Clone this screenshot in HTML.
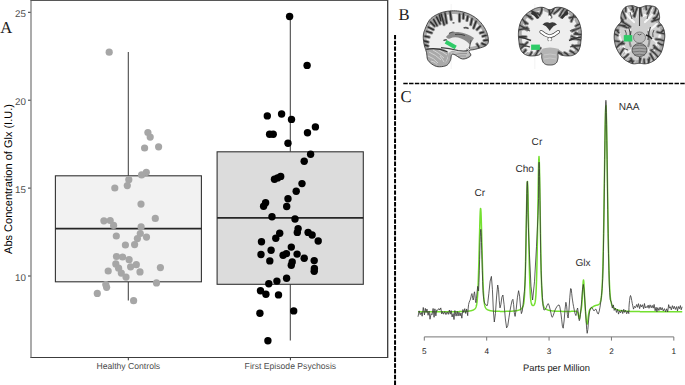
<!DOCTYPE html>
<html><head><meta charset="utf-8"><style>
html,body{margin:0;padding:0;background:#fff;width:685px;height:385px;overflow:hidden}
svg{display:block;font-family:"Liberation Sans",sans-serif}

</style></head><body>
<svg width="685" height="385" viewBox="0 0 685 385" text-rendering="geometricPrecision"><line x1="128.3" y1="52" x2="128.3" y2="175.8" stroke="#424242" stroke-width="1.05"/>
<line x1="128.3" y1="281.8" x2="128.3" y2="300.6" stroke="#424242" stroke-width="1.05"/>
<line x1="290.3" y1="16.5" x2="290.3" y2="151.8" stroke="#424242" stroke-width="1.05"/>
<line x1="290.3" y1="284.3" x2="290.3" y2="340.6" stroke="#424242" stroke-width="1.05"/>
<rect x="55.4" y="175.8" width="146" height="106" fill="#f2f2f2" stroke="#333" stroke-width="1.1"/>
<line x1="55.4" y1="228.6" x2="201.4" y2="228.6" stroke="#262626" stroke-width="1.7"/>
<rect x="217.1" y="151.8" width="146.2" height="132.5" fill="#dcdcdc" stroke="#333" stroke-width="1.1"/>
<line x1="217.1" y1="217.9" x2="363.3" y2="217.9" stroke="#262626" stroke-width="1.7"/>
<circle cx="109.2" cy="52.2" r="3.6" fill="#a6a6a6"/>
<circle cx="147.9" cy="132.5" r="3.6" fill="#a6a6a6"/>
<circle cx="150.2" cy="137.1" r="3.6" fill="#a6a6a6"/>
<circle cx="144.6" cy="148.0" r="3.6" fill="#a6a6a6"/>
<circle cx="158.6" cy="146.8" r="3.6" fill="#a6a6a6"/>
<circle cx="146.3" cy="172.3" r="3.6" fill="#a6a6a6"/>
<circle cx="141.6" cy="174.9" r="3.6" fill="#a6a6a6"/>
<circle cx="128.8" cy="179.7" r="3.6" fill="#a6a6a6"/>
<circle cx="127.3" cy="185.6" r="3.6" fill="#a6a6a6"/>
<circle cx="114.8" cy="188.0" r="3.6" fill="#a6a6a6"/>
<circle cx="141.0" cy="204.1" r="3.6" fill="#a6a6a6"/>
<circle cx="155.3" cy="218.4" r="3.6" fill="#a6a6a6"/>
<circle cx="103.9" cy="220.8" r="3.6" fill="#a6a6a6"/>
<circle cx="110.2" cy="220.5" r="3.6" fill="#a6a6a6"/>
<circle cx="113.6" cy="225.4" r="3.6" fill="#a6a6a6"/>
<circle cx="141.1" cy="226.9" r="3.6" fill="#a6a6a6"/>
<circle cx="116.3" cy="236.0" r="3.6" fill="#a6a6a6"/>
<circle cx="140.3" cy="233.5" r="3.6" fill="#a6a6a6"/>
<circle cx="137.4" cy="238.6" r="3.6" fill="#a6a6a6"/>
<circle cx="146.5" cy="237.1" r="3.6" fill="#a6a6a6"/>
<circle cx="134.6" cy="244.6" r="3.6" fill="#a6a6a6"/>
<circle cx="125.4" cy="245.0" r="3.6" fill="#a6a6a6"/>
<circle cx="116.5" cy="256.5" r="3.6" fill="#a6a6a6"/>
<circle cx="122.6" cy="257.0" r="3.6" fill="#a6a6a6"/>
<circle cx="129.1" cy="259.7" r="3.6" fill="#a6a6a6"/>
<circle cx="115.8" cy="263.9" r="3.6" fill="#a6a6a6"/>
<circle cx="136.3" cy="264.7" r="3.6" fill="#a6a6a6"/>
<circle cx="130.6" cy="266.8" r="3.6" fill="#a6a6a6"/>
<circle cx="118.6" cy="268.2" r="3.6" fill="#a6a6a6"/>
<circle cx="108.2" cy="271.0" r="3.6" fill="#a6a6a6"/>
<circle cx="121.3" cy="273.1" r="3.6" fill="#a6a6a6"/>
<circle cx="140.0" cy="271.9" r="3.6" fill="#a6a6a6"/>
<circle cx="126.0" cy="277.1" r="3.6" fill="#a6a6a6"/>
<circle cx="160.4" cy="267.6" r="3.6" fill="#a6a6a6"/>
<circle cx="156.5" cy="282.9" r="3.6" fill="#a6a6a6"/>
<circle cx="105.8" cy="284.6" r="3.6" fill="#a6a6a6"/>
<circle cx="106.6" cy="287.3" r="3.6" fill="#a6a6a6"/>
<circle cx="97.3" cy="293.4" r="3.6" fill="#a6a6a6"/>
<circle cx="133.6" cy="300.7" r="3.6" fill="#a6a6a6"/>
<circle cx="289.6" cy="16.5" r="3.7" fill="#000"/>
<circle cx="307.1" cy="65.4" r="3.7" fill="#000"/>
<circle cx="267.3" cy="115.9" r="3.7" fill="#000"/>
<circle cx="281.6" cy="114.0" r="3.7" fill="#000"/>
<circle cx="291.5" cy="119.4" r="3.7" fill="#000"/>
<circle cx="269.6" cy="134.3" r="3.7" fill="#000"/>
<circle cx="273.2" cy="134.3" r="3.7" fill="#000"/>
<circle cx="288.0" cy="143.3" r="3.7" fill="#000"/>
<circle cx="307.5" cy="132.8" r="3.7" fill="#000"/>
<circle cx="315.4" cy="126.9" r="3.7" fill="#000"/>
<circle cx="310.6" cy="154.3" r="3.7" fill="#000"/>
<circle cx="304.2" cy="161.2" r="3.7" fill="#000"/>
<circle cx="274.5" cy="179.3" r="3.7" fill="#000"/>
<circle cx="277.6" cy="177.9" r="3.7" fill="#000"/>
<circle cx="280.7" cy="176.4" r="3.7" fill="#000"/>
<circle cx="302.0" cy="183.6" r="3.7" fill="#000"/>
<circle cx="296.2" cy="191.3" r="3.7" fill="#000"/>
<circle cx="288.0" cy="198.8" r="3.7" fill="#000"/>
<circle cx="286.7" cy="206.5" r="3.7" fill="#000"/>
<circle cx="265.6" cy="202.8" r="3.7" fill="#000"/>
<circle cx="263.6" cy="206.3" r="3.7" fill="#000"/>
<circle cx="272.0" cy="216.8" r="3.7" fill="#000"/>
<circle cx="295.0" cy="219.0" r="3.7" fill="#000"/>
<circle cx="298.1" cy="228.6" r="3.7" fill="#000"/>
<circle cx="297.3" cy="232.4" r="3.7" fill="#000"/>
<circle cx="308.1" cy="232.4" r="3.7" fill="#000"/>
<circle cx="312.1" cy="235.0" r="3.7" fill="#000"/>
<circle cx="318.2" cy="241.0" r="3.7" fill="#000"/>
<circle cx="279.7" cy="233.2" r="3.7" fill="#000"/>
<circle cx="275.8" cy="238.3" r="3.7" fill="#000"/>
<circle cx="261.5" cy="241.7" r="3.7" fill="#000"/>
<circle cx="271.1" cy="250.3" r="3.7" fill="#000"/>
<circle cx="261.0" cy="254.5" r="3.7" fill="#000"/>
<circle cx="291.3" cy="247.1" r="3.7" fill="#000"/>
<circle cx="286.4" cy="253.6" r="3.7" fill="#000"/>
<circle cx="283.1" cy="255.3" r="3.7" fill="#000"/>
<circle cx="297.1" cy="254.1" r="3.7" fill="#000"/>
<circle cx="304.2" cy="258.3" r="3.7" fill="#000"/>
<circle cx="314.2" cy="260.6" r="3.7" fill="#000"/>
<circle cx="269.8" cy="260.9" r="3.7" fill="#000"/>
<circle cx="292.2" cy="262.0" r="3.7" fill="#000"/>
<circle cx="291.3" cy="265.3" r="3.7" fill="#000"/>
<circle cx="314.4" cy="268.4" r="3.7" fill="#000"/>
<circle cx="314.2" cy="271.3" r="3.7" fill="#000"/>
<circle cx="286.6" cy="278.3" r="3.7" fill="#000"/>
<circle cx="276.9" cy="281.1" r="3.7" fill="#000"/>
<circle cx="268.8" cy="283.8" r="3.7" fill="#000"/>
<circle cx="260.5" cy="290.7" r="3.7" fill="#000"/>
<circle cx="265.9" cy="294.2" r="3.7" fill="#000"/>
<circle cx="278.5" cy="294.9" r="3.7" fill="#000"/>
<circle cx="259.9" cy="313.3" r="3.7" fill="#000"/>
<circle cx="293.7" cy="310.9" r="3.7" fill="#000"/>
<circle cx="267.9" cy="340.8" r="3.7" fill="#000"/>
<rect x="30.5" y="0" width="357.5" height="1" fill="#575757"/>
<rect x="30.5" y="357" width="357.5" height="1" fill="#3c3c3c"/>
<rect x="30.5" y="0" width="1" height="358" fill="#585858"/>
<rect x="387" y="0" width="1.35" height="358" fill="#404040"/>
<rect x="28" y="11.80" width="2.6" height="1" fill="#333"/>
<text transform="translate(26.0,16.90)" text-rendering="geometricPrecision" text-anchor="end" font-family="Liberation Sans" font-size="9.8" fill="#4d4d4d">25</text>
<rect x="28" y="99.70" width="2.6" height="1" fill="#333"/>
<text transform="translate(26.0,104.80)" text-rendering="geometricPrecision" text-anchor="end" font-family="Liberation Sans" font-size="9.8" fill="#4d4d4d">20</text>
<rect x="28" y="187.60" width="2.6" height="1" fill="#333"/>
<text transform="translate(26.0,192.70)" text-rendering="geometricPrecision" text-anchor="end" font-family="Liberation Sans" font-size="9.8" fill="#4d4d4d">15</text>
<rect x="28" y="275.50" width="2.6" height="1" fill="#333"/>
<text transform="translate(26.0,280.60)" text-rendering="geometricPrecision" text-anchor="end" font-family="Liberation Sans" font-size="9.8" fill="#4d4d4d">10</text>
<rect x="127.80000000000001" y="358" width="1" height="2.3" fill="#333"/>
<text x="128.3" y="369.4" text-anchor="middle" font-family="Liberation Sans" font-size="8.65" fill="#4d4d4d">Healthy Controls</text>
<rect x="289.9" y="358" width="1" height="2.3" fill="#333"/>
<text x="290.4" y="369.4" text-anchor="middle" font-family="Liberation Sans" font-size="8.65" fill="#4d4d4d">First Episode Psychosis</text>
<text transform="translate(11.6,179) rotate(-90)" text-anchor="middle" font-family="Liberation Sans" font-size="11" fill="#000">Abs Concentration of Glx (I.U.)</text>
<text x="0.2" y="32.6" font-family="Liberation Serif" font-size="16.6" fill="#1e1e1e">A</text>
<text x="398.4" y="19.5" font-family="Liberation Serif" font-size="16.6" fill="#1e1e1e">B</text>
<text x="400.4" y="101.5" font-family="Liberation Serif" font-size="16.6" fill="#1e1e1e">C</text>
<line x1="395.05" y1="34.9" x2="395.05" y2="385" stroke="#000" stroke-width="2" stroke-dasharray="4.45 1.31"/>
<line x1="403.3" y1="83.55" x2="685" y2="83.55" stroke="#000" stroke-width="1.5" stroke-dasharray="4.45 1.32"/>
<line x1="424.3" y1="336.9" x2="673.8" y2="336.9" stroke="#777" stroke-width="1"/>
<line x1="424.30" y1="336.9" x2="424.30" y2="340.6" stroke="#777" stroke-width="1"/>
<text x="424.30" y="353.8" text-anchor="middle" font-family="Liberation Sans" font-size="8.2" fill="#222">5</text>
<line x1="486.68" y1="336.9" x2="486.68" y2="340.6" stroke="#777" stroke-width="1"/>
<text x="486.68" y="353.8" text-anchor="middle" font-family="Liberation Sans" font-size="8.2" fill="#222">4</text>
<line x1="549.06" y1="336.9" x2="549.06" y2="340.6" stroke="#777" stroke-width="1"/>
<text x="549.06" y="353.8" text-anchor="middle" font-family="Liberation Sans" font-size="8.2" fill="#222">3</text>
<line x1="611.44" y1="336.9" x2="611.44" y2="340.6" stroke="#777" stroke-width="1"/>
<text x="611.44" y="353.8" text-anchor="middle" font-family="Liberation Sans" font-size="8.2" fill="#222">2</text>
<line x1="673.82" y1="336.9" x2="673.82" y2="340.6" stroke="#777" stroke-width="1"/>
<text x="673.82" y="353.8" text-anchor="middle" font-family="Liberation Sans" font-size="8.2" fill="#222">1</text>
<text x="523" y="371.1" font-family="Liberation Sans" font-size="9.35" fill="#222">Parts per Million</text>
<text x="474.4" y="195.7" font-family="Liberation Sans" font-size="10.1" fill="#303030">Cr</text>
<text x="515.4" y="171.9" font-family="Liberation Sans" font-size="10.1" fill="#303030">Cho</text>
<text x="531.6" y="144.6" font-family="Liberation Sans" font-size="10.1" fill="#303030">Cr</text>
<text x="575.4" y="265.6" font-family="Liberation Sans" font-size="10.1" fill="#303030">Glx</text>
<text x="618.7" y="109.5" font-family="Liberation Sans" font-size="10.1" fill="#303030">NAA</text>
<path d="M418.00,311.85 L418.25,311.85 L418.50,311.85 L418.75,311.85 L419.00,311.85 L419.25,311.85 L419.50,311.85 L419.75,311.84 L420.00,311.84 L420.25,311.84 L420.50,311.84 L420.75,311.84 L421.00,311.84 L421.25,311.84 L421.50,311.84 L421.75,311.84 L422.00,311.84 L422.25,311.84 L422.50,311.84 L422.75,311.84 L423.00,311.84 L423.25,311.84 L423.50,311.84 L423.75,311.84 L424.00,311.84 L424.25,311.84 L424.50,311.84 L424.75,311.84 L425.00,311.84 L425.25,311.84 L425.50,311.84 L425.75,311.84 L426.00,311.84 L426.25,311.83 L426.50,311.83 L426.75,311.83 L427.00,311.83 L427.25,311.83 L427.50,311.83 L427.75,311.83 L428.00,311.83 L428.25,311.83 L428.50,311.83 L428.75,311.83 L429.00,311.83 L429.25,311.83 L429.50,311.83 L429.75,311.83 L430.00,311.83 L430.25,311.83 L430.50,311.83 L430.75,311.83 L431.00,311.83 L431.25,311.82 L431.50,311.82 L431.75,311.82 L432.00,311.82 L432.25,311.82 L432.50,311.82 L432.75,311.82 L433.00,311.82 L433.25,311.82 L433.50,311.82 L433.75,311.82 L434.00,311.82 L434.25,311.82 L434.50,311.82 L434.75,311.82 L435.00,311.82 L435.25,311.81 L435.50,311.81 L435.75,311.81 L436.00,311.81 L436.25,311.81 L436.50,311.81 L436.75,311.81 L437.00,311.81 L437.25,311.81 L437.50,311.81 L437.75,311.81 L438.00,311.81 L438.25,311.81 L438.50,311.80 L438.75,311.80 L439.00,311.80 L439.25,311.80 L439.50,311.80 L439.75,311.80 L440.00,311.80 L440.25,311.80 L440.50,311.80 L440.75,311.80 L441.00,311.79 L441.25,311.79 L441.50,311.79 L441.75,311.79 L442.00,311.79 L442.25,311.79 L442.50,311.79 L442.75,311.79 L443.00,311.79 L443.25,311.78 L443.50,311.78 L443.75,311.78 L444.00,311.78 L444.25,311.78 L444.50,311.78 L444.75,311.78 L445.00,311.78 L445.25,311.77 L445.50,311.77 L445.75,311.77 L446.00,311.77 L446.25,311.77 L446.50,311.77 L446.75,311.77 L447.00,311.76 L447.25,311.76 L447.50,311.76 L447.75,311.76 L448.00,311.76 L448.25,311.76 L448.50,311.75 L448.75,311.75 L449.00,311.75 L449.25,311.75 L449.50,311.75 L449.75,311.74 L450.00,311.74 L450.25,311.74 L450.50,311.74 L450.75,311.74 L451.00,311.73 L451.25,311.73 L451.50,311.73 L451.75,311.73 L452.00,311.72 L452.25,311.72 L452.50,311.72 L452.75,311.72 L453.00,311.71 L453.25,311.71 L453.50,311.71 L453.75,311.71 L454.00,311.70 L454.25,311.70 L454.50,311.70 L454.75,311.69 L455.00,311.69 L455.25,311.69 L455.50,311.68 L455.75,311.68 L456.00,311.68 L456.25,311.67 L456.50,311.67 L456.75,311.66 L457.00,311.66 L457.25,311.65 L457.50,311.65 L457.75,311.65 L458.00,311.64 L458.25,311.64 L458.50,311.63 L458.75,311.63 L459.00,311.62 L459.25,311.62 L459.50,311.61 L459.75,311.60 L460.00,311.60 L460.25,311.59 L460.50,311.58 L460.75,311.58 L461.00,311.57 L461.25,311.56 L461.50,311.56 L461.75,311.55 L462.00,311.54 L462.25,311.53 L462.50,311.52 L462.75,311.51 L463.00,311.50 L463.25,311.49 L463.50,311.48 L463.75,311.47 L464.00,311.46 L464.25,311.45 L464.50,311.44 L464.75,311.42 L465.00,311.41 L465.25,311.40 L465.50,311.38 L465.75,311.36 L466.00,311.35 L466.25,311.33 L466.50,311.31 L466.75,311.29 L467.00,311.27 L467.25,311.25 L467.50,311.23 L467.75,311.21 L468.00,311.18 L468.25,311.15 L468.50,311.13 L468.75,311.10 L469.00,311.07 L469.25,311.03 L469.50,311.00 L469.75,310.96 L470.00,310.92 L470.25,310.87 L470.50,310.83 L470.75,310.78 L471.00,310.72 L471.25,310.66 L471.50,310.60 L471.75,310.53 L472.00,310.46 L472.25,310.38 L472.50,310.29 L472.75,310.20 L473.00,310.09 L473.25,309.98 L473.50,309.85 L473.75,309.71 L474.00,309.56 L474.25,309.39 L474.50,309.19 L474.75,308.97 L475.00,308.72 L475.25,308.42 L475.50,308.05 L475.75,307.61 L476.00,307.03 L476.25,306.29 L476.50,305.30 L476.75,303.97 L477.00,302.19 L477.25,299.82 L477.50,296.71 L477.75,292.69 L478.00,287.64 L478.25,281.44 L478.50,274.06 L478.75,265.57 L479.00,256.13 L479.25,246.07 L479.50,235.86 L479.75,226.17 L480.00,217.79 L480.25,211.62 L480.50,208.48 L480.75,208.84 L481.00,212.63 L481.25,219.31 L481.50,228.02 L481.75,237.88 L482.00,248.10 L482.25,258.07 L482.50,267.34 L482.75,275.62 L483.00,282.76 L483.25,288.72 L483.50,293.55 L483.75,297.37 L484.00,300.32 L484.25,302.56 L484.50,304.24 L484.75,305.49 L485.00,306.42 L485.25,307.13 L485.50,307.67 L485.75,308.10 L486.00,308.44 L486.25,308.73 L486.50,308.98 L486.75,309.19 L487.00,309.38 L487.25,309.54 L487.50,309.69 L487.75,309.82 L488.00,309.95 L488.25,310.06 L488.50,310.16 L488.75,310.25 L489.00,310.33 L489.25,310.41 L489.50,310.48 L489.75,310.54 L490.00,310.60 L490.25,310.66 L490.50,310.71 L490.75,310.76 L491.00,310.80 L491.25,310.84 L491.50,310.88 L491.75,310.92 L492.00,310.95 L492.25,310.98 L492.50,311.01 L492.75,311.04 L493.00,311.06 L493.25,311.09 L493.50,311.11 L493.75,311.13 L494.00,311.15 L494.25,311.17 L494.50,311.18 L494.75,311.20 L495.00,311.21 L495.25,311.23 L495.50,311.24 L495.75,311.25 L496.00,311.27 L496.25,311.28 L496.50,311.29 L496.75,311.30 L497.00,311.31 L497.25,311.32 L497.50,311.32 L497.75,311.33 L498.00,311.34 L498.25,311.34 L498.50,311.35 L498.75,311.36 L499.00,311.36 L499.25,311.37 L499.50,311.37 L499.75,311.37 L500.00,311.38 L500.25,311.38 L500.50,311.38 L500.75,311.39 L501.00,311.39 L501.25,311.39 L501.50,311.39 L501.75,311.39 L502.00,311.40 L502.25,311.40 L502.50,311.40 L502.75,311.40 L503.00,311.40 L503.25,311.40 L503.50,311.39 L503.75,311.39 L504.00,311.39 L504.25,311.39 L504.50,311.39 L504.75,311.39 L505.00,311.38 L505.25,311.38 L505.50,311.38 L505.75,311.37 L506.00,311.37 L506.25,311.37 L506.50,311.36 L506.75,311.36 L507.00,311.35 L507.25,311.35 L507.50,311.34 L507.75,311.34 L508.00,311.33 L508.25,311.32 L508.50,311.32 L508.75,311.31 L509.00,311.30 L509.25,311.29 L509.50,311.28 L509.75,311.27 L510.00,311.26 L510.25,311.25 L510.50,311.24 L510.75,311.23 L511.00,311.22 L511.25,311.21 L511.50,311.19 L511.75,311.18 L512.00,311.16 L512.25,311.15 L512.50,311.13 L512.75,311.11 L513.00,311.09 L513.25,311.08 L513.50,311.05 L513.75,311.03 L514.00,311.01 L514.25,310.99 L514.50,310.96 L514.75,310.93 L515.00,310.91 L515.25,310.88 L515.50,310.84 L515.75,310.81 L516.00,310.77 L516.25,310.73 L516.50,310.69 L516.75,310.65 L517.00,310.60 L517.25,310.55 L517.50,310.50 L517.75,310.44 L518.00,310.38 L518.25,310.31 L518.50,310.24 L518.75,310.16 L519.00,310.08 L519.25,309.99 L519.50,309.89 L519.75,309.78 L520.00,309.66 L520.25,309.53 L520.50,309.38 L520.75,309.23 L521.00,309.05 L521.25,308.85 L521.50,308.64 L521.75,308.39 L522.00,308.11 L522.25,307.78 L522.50,307.40 L522.75,306.95 L523.00,306.37 L523.25,305.64 L523.50,304.66 L523.75,303.32 L524.00,301.46 L524.25,298.87 L524.50,295.31 L524.75,290.48 L525.00,284.11 L525.25,275.97 L525.50,265.95 L525.75,254.08 L526.00,240.68 L526.25,226.31 L526.50,211.89 L526.75,198.68 L527.00,188.24 L527.25,182.16 L527.50,181.55 L527.75,186.52 L528.00,196.13 L528.25,208.84 L528.50,223.06 L528.75,237.44 L529.00,251.01 L529.25,263.13 L529.50,273.45 L529.75,281.87 L530.00,288.48 L530.25,293.49 L530.50,297.18 L530.75,299.82 L531.00,301.68 L531.25,302.98 L531.50,303.88 L531.75,304.50 L532.00,304.93 L532.25,305.23 L532.50,305.42 L532.75,305.53 L533.00,305.57 L533.25,305.54 L533.50,305.45 L533.75,305.29 L534.00,305.05 L534.25,304.72 L534.50,304.25 L534.75,303.61 L535.00,302.70 L535.25,301.42 L535.50,299.59 L535.75,297.00 L536.00,293.36 L536.25,288.35 L536.50,281.64 L536.75,272.90 L537.00,261.96 L537.25,248.77 L537.50,233.56 L537.75,216.89 L538.00,199.67 L538.25,183.23 L538.50,169.33 L538.75,159.89 L539.00,156.54 L539.25,159.95 L539.50,169.45 L539.75,183.42 L540.00,199.92 L540.25,217.21 L540.50,233.95 L540.75,249.23 L541.00,262.49 L541.25,273.51 L541.50,282.32 L541.75,289.12 L542.00,294.22 L542.25,297.95 L542.50,300.64 L542.75,302.58 L543.00,303.98 L543.25,305.01 L543.50,305.79 L543.75,306.40 L544.00,306.90 L544.25,307.32 L544.50,307.68 L544.75,307.99 L545.00,308.27 L545.25,308.52 L545.50,308.73 L545.75,308.93 L546.00,309.11 L546.25,309.27 L546.50,309.42 L546.75,309.55 L547.00,309.67 L547.25,309.79 L547.50,309.89 L547.75,309.98 L548.00,310.07 L548.25,310.15 L548.50,310.23 L548.75,310.30 L549.00,310.36 L549.25,310.42 L549.50,310.48 L549.75,310.53 L550.00,310.58 L550.25,310.62 L550.50,310.67 L550.75,310.71 L551.00,310.75 L551.25,310.78 L551.50,310.82 L551.75,310.85 L552.00,310.88 L552.25,310.91 L552.50,310.93 L552.75,310.96 L553.00,310.98 L553.25,311.01 L553.50,311.03 L553.75,311.05 L554.00,311.07 L554.25,311.09 L554.50,311.10 L554.75,311.12 L555.00,311.14 L555.25,311.15 L555.50,311.17 L555.75,311.18 L556.00,311.19 L556.25,311.21 L556.50,311.22 L556.75,311.23 L557.00,311.24 L557.25,311.25 L557.50,311.26 L557.75,311.27 L558.00,311.28 L558.25,311.29 L558.50,311.30 L558.75,311.30 L559.00,311.31 L559.25,311.32 L559.50,311.32 L559.75,311.33 L560.00,311.34 L560.25,311.34 L560.50,311.35 L560.75,311.35 L561.00,311.36 L561.25,311.36 L561.50,311.37 L561.75,311.37 L562.00,311.37 L562.25,311.38 L562.50,311.38 L562.75,311.38 L563.00,311.39 L563.25,311.39 L563.50,311.39 L563.75,311.40 L564.00,311.40 L564.25,311.40 L564.50,311.40 L564.75,311.40 L565.00,311.40 L565.25,311.40 L565.50,311.41 L565.75,311.41 L566.00,311.41 L566.25,311.41 L566.50,311.41 L566.75,311.41 L567.00,311.41 L567.25,311.41 L567.50,311.41 L567.75,311.40 L568.00,311.40 L568.25,311.40 L568.50,311.40 L568.75,311.40 L569.00,311.40 L569.25,311.40 L569.50,311.39 L569.75,311.39 L570.00,311.39 L570.25,311.39 L570.50,311.38 L570.75,311.38 L571.00,311.38 L571.25,311.37 L571.50,311.37 L571.75,311.36 L572.00,311.36 L572.25,311.36 L572.50,311.35 L572.75,311.35 L573.00,311.34 L573.25,311.34 L573.50,311.33 L573.75,311.32 L574.00,311.32 L574.25,311.31 L574.50,311.31 L574.75,311.30 L575.00,311.29 L575.25,311.29 L575.50,311.29 L575.75,311.28 L576.00,311.28 L576.25,311.29 L576.50,311.31 L576.75,311.36 L577.00,311.47 L577.25,311.68 L577.50,312.04 L577.75,312.63 L578.00,313.49 L578.25,314.61 L578.50,315.90 L578.75,317.18 L579.00,318.17 L579.25,318.60 L579.50,318.29 L579.75,317.31 L580.00,315.91 L580.25,314.37 L580.50,312.87 L580.75,311.49 L581.00,310.18 L581.25,308.80 L581.50,307.12 L581.75,304.92 L582.00,301.99 L582.25,298.25 L582.50,293.82 L582.75,289.02 L583.00,284.50 L583.25,281.16 L583.50,279.94 L583.75,281.29 L584.00,284.81 L584.25,289.60 L584.50,294.81 L584.75,299.86 L585.00,304.45 L585.25,308.50 L585.50,312.05 L585.75,315.19 L586.00,317.99 L586.25,320.43 L586.50,322.39 L586.75,323.70 L587.00,324.20 L587.25,323.84 L587.50,322.70 L587.75,321.03 L588.00,319.06 L588.25,317.05 L588.50,315.16 L588.75,313.52 L589.00,312.17 L589.25,311.11 L589.50,310.31 L589.75,309.72 L590.00,309.28 L590.25,308.95 L590.50,308.68 L590.75,308.45 L591.00,308.25 L591.25,308.05 L591.50,307.86 L591.75,307.67 L592.00,307.49 L592.25,307.31 L592.50,307.13 L592.75,306.95 L593.00,306.78 L593.25,306.61 L593.50,306.45 L593.75,306.30 L594.00,306.15 L594.25,306.02 L594.50,305.90 L594.75,305.78 L595.00,305.68 L595.25,305.59 L595.50,305.52 L595.75,305.44 L596.00,305.38 L596.25,305.32 L596.50,305.27 L596.75,305.21 L597.00,305.15 L597.25,305.09 L597.50,305.02 L597.75,304.94 L598.00,304.84 L598.25,304.72 L598.50,304.58 L598.75,304.42 L599.00,304.21 L599.25,303.97 L599.50,303.68 L599.75,303.32 L600.00,302.87 L600.25,302.31 L600.50,301.60 L600.75,300.69 L601.00,299.49 L601.25,297.92 L601.50,295.85 L601.75,293.12 L602.00,289.55 L602.25,284.93 L602.50,279.03 L602.75,271.63 L603.00,262.55 L603.25,251.63 L603.50,238.83 L603.75,224.20 L604.00,207.95 L604.25,190.47 L604.50,172.34 L604.75,154.33 L605.00,137.47 L605.25,122.97 L605.50,112.10 L605.75,106.03 L606.00,105.48 L606.25,110.54 L606.50,120.58 L606.75,134.52 L607.00,151.06 L607.25,168.97 L607.50,187.21 L607.75,204.93 L608.00,221.52 L608.25,236.56 L608.50,249.81 L608.75,261.17 L609.00,270.69 L609.25,278.48 L609.50,284.75 L609.75,289.70 L610.00,293.55 L610.25,296.53 L610.50,298.82 L610.75,300.59 L611.00,301.96 L611.25,303.03 L611.50,303.90 L611.75,304.60 L612.00,305.20 L612.25,305.70 L612.50,306.14 L612.75,306.53 L613.00,306.87 L613.25,307.18 L613.50,307.46 L613.75,307.72 L614.00,307.96 L614.25,308.17 L614.50,308.37 L614.75,308.55 L615.00,308.72 L615.25,308.87 L615.50,309.02 L615.75,309.15 L616.00,309.28 L616.25,309.40 L616.50,309.50 L616.75,309.61 L617.00,309.70 L617.25,309.79 L617.50,309.88 L617.75,309.95 L618.00,310.03 L618.25,310.10 L618.50,310.17 L618.75,310.23 L619.00,310.29 L619.25,310.34 L619.50,310.40 L619.75,310.45 L620.00,310.49 L620.25,310.54 L620.50,310.58 L620.75,310.62 L621.00,310.66 L621.25,310.70 L621.50,310.74 L621.75,310.77 L622.00,310.80 L622.25,310.83 L622.50,310.86 L622.75,310.89 L623.00,310.92 L623.25,310.95 L623.50,310.97 L623.75,311.00 L624.00,311.02 L624.25,311.04 L624.50,311.06 L624.75,311.08 L625.00,311.10 L625.25,311.12 L625.50,311.14 L625.75,311.16 L626.00,311.17 L626.25,311.19 L626.50,311.21 L626.75,311.22 L627.00,311.24 L627.25,311.25 L627.50,311.27 L627.75,311.28 L628.00,311.29 L628.25,311.30 L628.50,311.32 L628.75,311.33 L629.00,311.34 L629.25,311.35 L629.50,311.36 L629.75,311.37 L630.00,311.38 L630.25,311.39 L630.50,311.40 L630.75,311.41 L631.00,311.42 L631.25,311.43 L631.50,311.44 L631.75,311.44 L632.00,311.45 L632.25,311.46 L632.50,311.47 L632.75,311.48 L633.00,311.48 L633.25,311.49 L633.50,311.50 L633.75,311.50 L634.00,311.51 L634.25,311.52 L634.50,311.52 L634.75,311.53 L635.00,311.53 L635.25,311.54 L635.50,311.55 L635.75,311.55 L636.00,311.56 L636.25,311.56 L636.50,311.57 L636.75,311.57 L637.00,311.58 L637.25,311.58 L637.50,311.59 L637.75,311.59 L638.00,311.59 L638.25,311.60 L638.50,311.60 L638.75,311.61 L639.00,311.61 L639.25,311.61 L639.50,311.62 L639.75,311.62 L640.00,311.63 L640.25,311.63 L640.50,311.63 L640.75,311.64 L641.00,311.64 L641.25,311.64 L641.50,311.65 L641.75,311.65 L642.00,311.65 L642.25,311.66 L642.50,311.66 L642.75,311.66 L643.00,311.66 L643.25,311.67 L643.50,311.67 L643.75,311.67 L644.00,311.68 L644.25,311.68 L644.50,311.68 L644.75,311.68 L645.00,311.69 L645.25,311.69 L645.50,311.69 L645.75,311.69 L646.00,311.70 L646.25,311.70 L646.50,311.70 L646.75,311.70 L647.00,311.70 L647.25,311.71 L647.50,311.71 L647.75,311.71 L648.00,311.71 L648.25,311.71 L648.50,311.72 L648.75,311.72 L649.00,311.72 L649.25,311.72 L649.50,311.72 L649.75,311.73 L650.00,311.73 L650.25,311.73 L650.50,311.73 L650.75,311.73 L651.00,311.73 L651.25,311.74 L651.50,311.74 L651.75,311.74 L652.00,311.74 L652.25,311.74 L652.50,311.74 L652.75,311.75 L653.00,311.75 L653.25,311.75 L653.50,311.75 L653.75,311.75 L654.00,311.75 L654.25,311.75 L654.50,311.76 L654.75,311.76 L655.00,311.76 L655.25,311.76 L655.50,311.76 L655.75,311.76 L656.00,311.76 L656.25,311.76 L656.50,311.77 L656.75,311.77 L657.00,311.77 L657.25,311.77 L657.50,311.77 L657.75,311.77 L658.00,311.77 L658.25,311.77 L658.50,311.77 L658.75,311.78 L659.00,311.78 L659.25,311.78 L659.50,311.78 L659.75,311.78 L660.00,311.78 L660.25,311.78 L660.50,311.78 L660.75,311.78 L661.00,311.78 L661.25,311.79 L661.50,311.79 L661.75,311.79 L662.00,311.79 L662.25,311.79 L662.50,311.79 L662.75,311.79 L663.00,311.79 L663.25,311.79 L663.50,311.79 L663.75,311.79 L664.00,311.80 L664.25,311.80 L664.50,311.80 L664.75,311.80 L665.00,311.80 L665.25,311.80 L665.50,311.80 L665.75,311.80 L666.00,311.80 L666.25,311.80 L666.50,311.80 L666.75,311.80 L667.00,311.80 L667.25,311.80 L667.50,311.81 L667.75,311.81 L668.00,311.81 L668.25,311.81 L668.50,311.81 L668.75,311.81 L669.00,311.81 L669.25,311.81 L669.50,311.81 L669.75,311.81 L670.00,311.81 L670.25,311.81 L670.50,311.81 L670.75,311.81 L671.00,311.81 L671.25,311.81 L671.50,311.82 L671.75,311.82 L672.00,311.82 L672.25,311.82 L672.50,311.82 L672.75,311.82 L673.00,311.82 L673.25,311.82 L673.50,311.82 L673.75,311.82 L674.00,311.82 L674.25,311.82 L674.50,311.82 L674.75,311.82 L675.00,311.82 L675.25,311.82 L675.50,311.82 L675.75,311.82 L676.00,311.82 L676.25,311.83 L676.50,311.83 L676.75,311.83 L677.00,311.83 L677.25,311.83 L677.50,311.83 L677.75,311.83 L678.00,311.83 L678.25,311.83 L678.50,311.83 L678.75,311.83 L679.00,311.83 L679.25,311.83 L679.50,311.83 L679.75,311.83 L680.00,311.83 L680.25,311.83 L680.50,311.83 L680.75,311.83 L681.00,311.83 L681.25,311.83 L681.50,311.83 L681.75,311.83 L682.00,311.83 L682.25,311.84" fill="none" stroke="#74e030" stroke-width="1.5" stroke-linejoin="round"/>
<path d="M418.00,316.74 L419.17,310.89 L420.20,314.66 L421.26,312.46 L422.18,316.21 L423.26,307.48 L424.44,314.91 L425.30,308.39 L426.13,312.45 L426.94,308.99 L428.08,315.30 L429.08,311.02 L429.99,319.22 L431.12,313.65 L432.02,314.78 L433.12,308.46 L434.08,317.27 L434.88,308.83 L435.87,315.89 L436.69,310.03 L437.60,310.25 L438.79,308.55 L439.69,310.06 L440.81,307.90 L441.78,313.99 L442.64,311.54 L443.61,314.20 L444.79,311.50 L445.95,314.62 L447.09,311.91 L448.29,314.34 L449.39,310.01 L450.22,314.16 L451.12,310.56 L452.10,316.99 L453.13,313.55 L453.99,319.54 L454.89,310.52 L456.07,316.11 L457.22,311.36 L458.06,316.04 L458.96,312.26 L460.09,315.93 L460.96,312.95 L461.85,318.19 L462.90,309.51 L463.78,312.52 L464.76,308.63 L465.70,313.45 L466.65,308.96 L467.71,315.66 L467.71,315.66 L467.90,312.56 L468.20,308.21 L468.60,304.50 L468.60,304.50 L469.18,302.24 L469.87,300.62 L470.50,299.00 L471.01,296.76 L471.46,294.52 L471.90,293.60 L472.34,295.40 L472.77,298.51 L473.20,300.00 L473.63,297.64 L474.06,293.66 L474.50,291.80 L474.94,295.03 L475.40,300.37 L475.90,302.70 L476.50,298.52 L477.15,291.32 L477.70,286.40 L478.06,287.57 L478.33,291.02 L478.60,290.58 L478.94,282.65 L479.29,270.82 L479.60,259.80 L479.86,250.77 L480.09,242.54 L480.30,236.18 L480.48,232.14 L480.64,229.96 L480.80,229.31 L480.96,229.96 L481.12,232.14 L481.30,236.17 L481.51,242.54 L481.74,250.77 L482.00,259.79 L482.30,270.24 L482.63,281.48 L483.00,290.57 L483.40,296.14 L483.83,299.57 L484.30,302.00 L484.84,303.62 L485.42,304.25 L486.00,304.50 L486.49,305.43 L486.99,305.97 L487.70,303.60 L488.81,293.79 L490.15,281.05 L491.40,276.40 L492.41,289.27 L493.33,310.22 L494.30,322.00 L495.44,313.57 L496.63,295.96 L497.70,285.00 L498.53,289.52 L499.23,300.70 L500.00,307.90 L500.89,304.56 L501.85,297.23 L502.90,295.00 L504.09,304.43 L505.36,318.95 L506.60,327.90 L507.77,325.66 L508.91,317.86 L510.00,310.70 L511.03,305.41 L512.00,300.77 L512.90,299.30 L513.64,304.47 L514.30,312.81 L515.10,316.40 L516.20,309.20 L517.44,297.25 L518.60,290.70 L519.60,296.20 L520.52,307.09 L521.40,313.60 L522.26,311.16 L523.08,304.33 L523.80,297.00 L524.39,291.27 L524.88,285.04 L525.30,275.85 L525.66,261.42 L525.94,244.04 L526.20,228.13 L526.43,214.84 L526.62,203.01 L526.80,193.64 L526.97,186.98 L527.14,182.78 L527.30,181.30 L527.46,182.74 L527.63,186.90 L527.80,193.52 L527.86,201.93 L527.93,212.80 L528.40,227.86 L529.49,254.90 L530.98,286.14 L532.60,300.00 L534.49,281.82 L536.51,246.26 L538.00,215.68 L538.56,198.27 L538.59,185.84 L538.60,176.23 L538.77,168.62 L538.94,163.84 L539.10,162.19 L539.26,163.88 L539.43,168.69 L539.60,176.34 L539.78,187.08 L539.97,200.66 L540.20,215.91 L540.43,233.75 L540.70,253.27 L541.10,270.67 L541.70,285.22 L542.44,297.65 L543.20,306.40 L543.94,310.02 L544.70,309.95 L545.50,309.00 L546.39,307.32 L547.31,304.75 L548.20,303.60 L549.01,305.16 L549.79,308.14 L550.50,311.00 L551.09,313.72 L551.61,316.32 L552.30,317.30 L553.25,315.46 L554.35,311.99 L555.50,309.00 L556.73,306.87 L558.01,305.21 L559.10,305.00 L559.85,306.84 L560.41,310.13 L561.00,314.00 L561.69,319.83 L562.42,326.24 L563.20,328.20 L564.08,321.00 L565.02,309.34 L565.90,302.30 L566.66,306.12 L567.36,314.57 L568.10,318.00 L568.94,310.10 L569.82,297.20 L570.60,288.60 L571.21,288.89 L571.71,293.48 L572.20,298.00 L572.65,300.94 L573.07,303.81 L573.60,306.70 L574.32,310.26 L575.14,313.85 L575.90,315.60 L576.51,313.54 L577.06,309.64 L577.60,308.00 L578.17,311.64 L578.73,317.53 L579.30,320.70 L579.84,319.05 L580.39,314.68 L581.00,308.90 L581.72,299.76 L582.51,289.21 L583.30,284.40 L584.09,289.84 L584.89,301.03 L585.60,311.60 L586.17,320.76 L586.66,329.31 L587.20,333.30 L587.85,329.41 L588.55,320.97 L589.20,314.00 L589.77,310.80 L590.30,309.07 L590.80,308.00 L591.27,307.41 L591.71,307.48 L592.20,307.90 L592.77,308.88 L593.38,310.22 L594.00,311.00 L594.61,310.49 L595.23,309.41 L595.90,309.10 L596.66,310.87 L597.47,313.39 L598.30,314.00 L599.15,311.57 L600.01,307.23 L600.80,301.70 L601.51,295.64 L602.16,288.39 L602.70,278.66 L603.10,266.26 L603.40,251.38 L603.70,233.34 L604.04,209.85 L604.39,183.21 L604.70,159.56 L604.96,140.70 L605.19,124.85 L605.40,112.80 L605.58,105.18 L605.74,101.38 L605.90,100.34 L606.06,101.38 L606.22,105.19 L606.40,112.80 L606.61,124.85 L606.84,140.71 L607.10,159.57 L607.40,183.02 L607.74,209.46 L608.10,233.35 L608.49,253.25 L608.91,270.59 L609.30,284.05 L609.30,284.05 L609.69,292.49 L610.05,297.05 L610.30,299.85 L610.30,299.85 L611.46,302.23 L612.27,308.08 L613.36,304.91 L614.19,310.42 L615.35,308.07 L616.47,312.41 L617.55,309.27 L618.51,314.11 L619.54,310.82 L620.58,312.81 L621.63,309.93 L622.72,313.53 L623.75,309.27 L624.59,312.38 L625.63,310.27 L626.71,313.77 L627.88,311.04 L628.80,313.61 L628.80,313.61 L628.87,311.08 L628.98,307.48 L629.20,304.00 L629.20,304.00 L629.55,300.47 L630.00,297.06 L630.50,295.50 L631.09,297.07 L631.73,300.48 L632.30,303.60 L632.30,303.60 L632.79,305.84 L633.21,307.80 L633.50,309.14 L633.50,309.14 L634.48,306.36 L635.54,307.66 L636.67,304.53 L637.62,307.34 L638.47,303.67 L639.61,308.64 L640.52,304.57 L641.43,306.94 L642.48,304.74 L643.62,308.74 L644.45,303.51 L645.27,307.87 L646.19,306.55 L647.04,307.71 L648.18,305.13 L649.00,308.32 L650.05,304.85 L651.23,307.80 L652.22,305.42 L653.21,308.14 L654.12,304.44 L655.13,310.75 L656.08,307.23 L656.92,311.75 L657.77,307.68 L658.93,310.54 L660.09,307.11 L661.07,310.03 L662.16,307.60 L663.25,310.95 L664.44,308.64 L665.56,311.73 L666.70,308.78 L667.67,311.98 L668.67,304.66 L669.50,308.13 L670.43,306.78 L671.29,309.84 L672.43,305.67 L673.42,308.78 L674.31,306.27 L675.40,309.43 L676.54,306.64 L677.49,310.88 L678.38,306.51 L679.39,308.73 L680.40,305.55 L681.21,309.76 L682.17,306.77" fill="none" stroke="#363636" stroke-width="0.8" stroke-linejoin="round"/>
<g><line x1="451.2" y1="4" x2="451.2" y2="69" stroke="#f0f0f0" stroke-width="0.8"/>
<line x1="534.8" y1="4" x2="534.8" y2="69" stroke="#f0f0f0" stroke-width="0.8"/>
<defs>
<clipPath id="cs"><path d="M424.90,29.50 L425.49,28.00 L426.17,26.32 L426.94,24.54 L427.80,22.78 L428.75,21.13 L429.80,19.70 L430.96,18.48 L432.23,17.39 L433.59,16.41 L435.03,15.53 L436.50,14.73 L438.00,14.00 L439.52,13.33 L441.09,12.75 L442.69,12.24 L444.35,11.82 L446.05,11.47 L447.80,11.20 L449.62,11.00 L451.51,10.86 L453.45,10.80 L455.41,10.83 L457.37,10.96 L459.30,11.20 L461.23,11.56 L463.20,12.02 L465.16,12.59 L467.08,13.24 L468.94,13.98 L470.70,14.80 L472.37,15.69 L473.97,16.66 L475.50,17.71 L476.97,18.85 L478.37,20.08 L479.70,21.40 L480.99,22.85 L482.24,24.43 L483.43,26.10 L484.52,27.81 L485.49,29.53 L486.30,31.20 L486.97,32.89 L487.52,34.65 L487.94,36.41 L488.24,38.10 L488.39,39.65 L488.40,41.00 L488.29,42.12 L488.06,43.06 L487.70,43.86 L487.17,44.57 L486.45,45.23 L485.50,45.90 L484.22,46.56 L482.59,47.18 L480.77,47.76 L478.91,48.29 L477.13,48.77 L475.60,49.20 L474.23,49.53 L472.88,49.74 L471.63,49.90 L470.54,50.09 L469.68,50.36 L469.10,50.80 L469.01,51.44 L469.39,52.25 L470.00,53.14 L470.59,54.06 L470.90,54.94 L470.70,55.70 L469.93,56.44 L468.79,57.22 L467.37,57.96 L465.79,58.57 L464.17,58.94 L462.60,59.00 L460.97,58.53 L459.16,57.55 L457.29,56.35 L455.51,55.19 L453.94,54.35 L452.70,54.10 L451.89,54.54 L451.41,55.48 L451.14,56.73 L450.95,58.12 L450.71,59.47 L450.30,60.60 L449.78,61.57 L449.27,62.53 L448.71,63.46 L448.05,64.30 L447.23,65.03 L446.20,65.60 L444.88,66.05 L443.30,66.42 L441.56,66.67 L439.76,66.78 L438.01,66.70 L436.40,66.40 L434.87,65.84 L433.31,65.04 L431.79,64.06 L430.39,62.95 L429.17,61.78 L428.20,60.60 L427.55,59.38 L427.18,58.07 L426.99,56.70 L426.88,55.29 L426.75,53.88 L426.50,52.50 L426.12,51.14 L425.69,49.77 L425.24,48.41 L424.81,47.04 L424.42,45.67 L424.10,44.30 L423.85,42.91 L423.63,41.51 L423.45,40.10 L423.33,38.71 L423.28,37.37 L423.30,36.10 L423.39,34.94 L423.53,33.90 L423.74,32.90 L424.03,31.88 L424.41,30.77 Z"/></clipPath>
<clipPath id="cc"><path d="M536.60,8.00 L537.67,7.71 L538.73,7.49 L539.78,7.34 L540.84,7.28 L541.91,7.30 L543.00,7.40 L544.13,7.68 L545.29,8.16 L546.47,8.71 L547.64,9.24 L548.79,9.64 L549.90,9.80 L550.95,9.64 L551.95,9.24 L552.93,8.71 L553.91,8.16 L554.93,7.68 L556.00,7.40 L557.14,7.30 L558.33,7.28 L559.56,7.34 L560.79,7.49 L562.01,7.71 L563.20,8.00 L564.38,8.39 L565.57,8.87 L566.75,9.44 L567.90,10.05 L568.99,10.68 L570.00,11.30 L570.93,11.91 L571.79,12.53 L572.59,13.16 L573.36,13.83 L574.09,14.54 L574.80,15.30 L575.50,16.12 L576.17,16.98 L576.81,17.88 L577.42,18.82 L577.98,19.80 L578.50,20.80 L578.97,21.84 L579.40,22.93 L579.79,24.06 L580.13,25.20 L580.44,26.35 L580.70,27.50 L580.92,28.65 L581.09,29.82 L581.22,31.00 L581.31,32.18 L581.37,33.35 L581.40,34.50 L581.39,35.64 L581.34,36.79 L581.25,37.92 L581.14,39.04 L581.02,40.14 L580.90,41.20 L580.79,42.22 L580.69,43.22 L580.57,44.19 L580.43,45.14 L580.25,46.07 L580.00,47.00 L579.70,47.94 L579.38,48.89 L579.01,49.82 L578.58,50.71 L578.08,51.55 L577.50,52.30 L576.82,52.97 L576.06,53.59 L575.22,54.15 L574.33,54.64 L573.42,55.06 L572.50,55.40 L571.55,55.65 L570.56,55.81 L569.53,55.90 L568.50,55.93 L567.48,55.93 L566.50,55.90 L565.52,55.84 L564.53,55.73 L563.55,55.57 L562.61,55.40 L561.75,55.20 L561.00,55.00 L560.35,54.72 L559.77,54.32 L559.27,53.91 L558.84,53.58 L558.48,53.41 L558.20,53.50 L558.03,53.90 L557.99,54.56 L558.01,55.38 L558.06,56.28 L558.07,57.18 L558.00,58.00 L557.86,58.78 L557.69,59.59 L557.48,60.40 L557.24,61.18 L556.95,61.89 L556.60,62.50 L556.19,63.01 L555.71,63.44 L555.19,63.81 L554.63,64.11 L554.07,64.38 L553.50,64.60 L552.93,64.77 L552.34,64.89 L551.73,64.96 L551.12,64.99 L550.51,65.00 L549.90,65.00 L549.29,65.00 L548.68,64.99 L548.06,64.96 L547.46,64.89 L546.87,64.77 L546.30,64.60 L545.75,64.38 L545.20,64.11 L544.67,63.81 L544.17,63.44 L543.71,63.01 L543.30,62.50 L542.95,61.89 L542.64,61.18 L542.37,60.40 L542.15,59.59 L541.96,58.78 L541.80,58.00 L541.72,57.18 L541.73,56.28 L541.78,55.38 L541.81,54.56 L541.77,53.90 L541.60,53.50 L541.32,53.41 L540.96,53.58 L540.53,53.91 L540.03,54.32 L539.45,54.72 L538.80,55.00 L538.05,55.20 L537.19,55.40 L536.25,55.58 L535.27,55.73 L534.28,55.84 L533.30,55.90 L532.32,55.93 L531.30,55.93 L530.27,55.90 L529.24,55.81 L528.25,55.65 L527.30,55.40 L526.38,55.06 L525.47,54.64 L524.58,54.15 L523.74,53.59 L522.98,52.97 L522.30,52.30 L521.72,51.55 L521.22,50.71 L520.79,49.82 L520.42,48.89 L520.10,47.94 L519.80,47.00 L519.55,46.07 L519.37,45.14 L519.22,44.19 L519.11,43.22 L519.01,42.22 L518.90,41.20 L518.78,40.14 L518.66,39.04 L518.55,37.93 L518.46,36.79 L518.41,35.64 L518.40,34.50 L518.43,33.35 L518.49,32.18 L518.59,31.00 L518.72,29.82 L518.89,28.65 L519.10,27.50 L519.35,26.35 L519.63,25.20 L519.96,24.06 L520.32,22.93 L520.74,21.84 L521.20,20.80 L521.72,19.80 L522.30,18.82 L522.92,17.88 L523.58,16.98 L524.28,16.12 L525.00,15.30 L525.75,14.54 L526.52,13.83 L527.33,13.16 L528.17,12.53 L529.06,11.91 L530.00,11.30 L531.01,10.68 L532.09,10.05 L533.21,9.44 L534.36,8.87 L535.49,8.39 Z"/></clipPath>
<clipPath id="ca"><path d="M626.90,6.40 L627.76,6.16 L628.72,5.96 L629.76,5.83 L630.84,5.75 L631.93,5.74 L633.00,5.80 L634.06,6.00 L635.14,6.36 L636.23,6.77 L637.32,7.18 L638.41,7.48 L639.50,7.60 L640.57,7.48 L641.61,7.18 L642.66,6.77 L643.73,6.36 L644.84,6.00 L646.00,5.80 L647.29,5.74 L648.69,5.75 L650.13,5.82 L651.53,5.96 L652.82,6.16 L653.90,6.40 L654.77,6.70 L655.50,7.06 L656.10,7.48 L656.61,7.95 L657.07,8.46 L657.50,9.00 L657.88,9.59 L658.19,10.24 L658.44,10.94 L658.64,11.66 L658.83,12.38 L659.00,13.10 L659.17,13.82 L659.31,14.56 L659.43,15.30 L659.52,16.04 L659.58,16.78 L659.60,17.50 L659.53,18.20 L659.36,18.90 L659.15,19.58 L658.98,20.26 L658.91,20.93 L659.00,21.60 L659.30,22.25 L659.77,22.89 L660.34,23.53 L660.94,24.16 L661.52,24.82 L662.00,25.50 L662.41,26.20 L662.79,26.90 L663.14,27.62 L663.46,28.37 L663.75,29.16 L664.00,30.00 L664.22,30.92 L664.41,31.90 L664.58,32.92 L664.70,33.96 L664.77,34.99 L664.80,36.00 L664.76,36.98 L664.67,37.94 L664.52,38.90 L664.36,39.86 L664.17,40.82 L664.00,41.80 L663.83,42.79 L663.67,43.79 L663.49,44.80 L663.29,45.81 L663.06,46.81 L662.80,47.80 L662.51,48.79 L662.21,49.78 L661.87,50.76 L661.50,51.73 L661.08,52.68 L660.60,53.60 L660.05,54.50 L659.44,55.38 L658.79,56.24 L658.09,57.07 L657.36,57.86 L656.60,58.60 L655.81,59.29 L654.98,59.94 L654.12,60.56 L653.23,61.12 L652.32,61.64 L651.40,62.10 L650.46,62.51 L649.49,62.88 L648.50,63.20 L647.50,63.46 L646.50,63.66 L645.50,63.80 L644.51,63.83 L643.51,63.76 L642.51,63.62 L641.50,63.47 L640.50,63.35 L639.50,63.30 L638.49,63.35 L637.46,63.47 L636.43,63.62 L635.42,63.76 L634.44,63.83 L633.50,63.80 L632.62,63.66 L631.80,63.46 L631.00,63.20 L630.21,62.88 L629.42,62.51 L628.60,62.10 L627.74,61.64 L626.84,61.12 L625.94,60.56 L625.06,59.94 L624.20,59.29 L623.40,58.60 L622.65,57.86 L621.95,57.07 L621.27,56.24 L620.63,55.38 L620.01,54.50 L619.40,53.60 L618.80,52.68 L618.21,51.73 L617.65,50.76 L617.12,49.78 L616.63,48.79 L616.20,47.80 L615.83,46.81 L615.50,45.81 L615.23,44.80 L614.99,43.79 L614.78,42.79 L614.60,41.80 L614.45,40.82 L614.33,39.86 L614.24,38.90 L614.19,37.94 L614.18,36.98 L614.20,36.00 L614.25,34.99 L614.34,33.96 L614.46,32.92 L614.62,31.90 L614.83,30.92 L615.10,30.00 L615.44,29.16 L615.85,28.37 L616.31,27.62 L616.80,26.90 L617.30,26.20 L617.80,25.50 L618.34,24.82 L618.96,24.16 L619.58,23.52 L620.17,22.89 L620.66,22.25 L621.00,21.60 L621.15,20.93 L621.15,20.26 L621.06,19.58 L620.93,18.90 L620.82,18.20 L620.80,17.50 L620.85,16.78 L620.92,16.04 L621.01,15.30 L621.14,14.56 L621.30,13.82 L621.50,13.10 L621.74,12.38 L622.02,11.66 L622.33,10.94 L622.68,10.24 L623.07,9.59 L623.50,9.00 L623.95,8.46 L624.43,7.95 L624.94,7.48 L625.51,7.06 L626.16,6.70 Z"/></clipPath>
</defs>
<path d="M424.90,29.50 L425.49,28.00 L426.17,26.32 L426.94,24.54 L427.80,22.78 L428.75,21.13 L429.80,19.70 L430.96,18.48 L432.23,17.39 L433.59,16.41 L435.03,15.53 L436.50,14.73 L438.00,14.00 L439.52,13.33 L441.09,12.75 L442.69,12.24 L444.35,11.82 L446.05,11.47 L447.80,11.20 L449.62,11.00 L451.51,10.86 L453.45,10.80 L455.41,10.83 L457.37,10.96 L459.30,11.20 L461.23,11.56 L463.20,12.02 L465.16,12.59 L467.08,13.24 L468.94,13.98 L470.70,14.80 L472.37,15.69 L473.97,16.66 L475.50,17.71 L476.97,18.85 L478.37,20.08 L479.70,21.40 L480.99,22.85 L482.24,24.43 L483.43,26.10 L484.52,27.81 L485.49,29.53 L486.30,31.20 L486.97,32.89 L487.52,34.65 L487.94,36.41 L488.24,38.10 L488.39,39.65 L488.40,41.00 L488.29,42.12 L488.06,43.06 L487.70,43.86 L487.17,44.57 L486.45,45.23 L485.50,45.90 L484.22,46.56 L482.59,47.18 L480.77,47.76 L478.91,48.29 L477.13,48.77 L475.60,49.20 L474.23,49.53 L472.88,49.74 L471.63,49.90 L470.54,50.09 L469.68,50.36 L469.10,50.80 L469.01,51.44 L469.39,52.25 L470.00,53.14 L470.59,54.06 L470.90,54.94 L470.70,55.70 L469.93,56.44 L468.79,57.22 L467.37,57.96 L465.79,58.57 L464.17,58.94 L462.60,59.00 L460.97,58.53 L459.16,57.55 L457.29,56.35 L455.51,55.19 L453.94,54.35 L452.70,54.10 L451.89,54.54 L451.41,55.48 L451.14,56.73 L450.95,58.12 L450.71,59.47 L450.30,60.60 L449.78,61.57 L449.27,62.53 L448.71,63.46 L448.05,64.30 L447.23,65.03 L446.20,65.60 L444.88,66.05 L443.30,66.42 L441.56,66.67 L439.76,66.78 L438.01,66.70 L436.40,66.40 L434.87,65.84 L433.31,65.04 L431.79,64.06 L430.39,62.95 L429.17,61.78 L428.20,60.60 L427.55,59.38 L427.18,58.07 L426.99,56.70 L426.88,55.29 L426.75,53.88 L426.50,52.50 L426.12,51.14 L425.69,49.77 L425.24,48.41 L424.81,47.04 L424.42,45.67 L424.10,44.30 L423.85,42.91 L423.63,41.51 L423.45,40.10 L423.33,38.71 L423.28,37.37 L423.30,36.10 L423.39,34.94 L423.53,33.90 L423.74,32.90 L424.03,31.88 L424.41,30.77 Z" fill="#eeeeee"/>
<g clip-path="url(#cs)">
<path d="M424.90,29.50 L425.49,28.00 L426.17,26.32 L426.94,24.54 L427.80,22.78 L428.75,21.13 L429.80,19.70 L430.96,18.48 L432.23,17.39 L433.59,16.41 L435.03,15.53 L436.50,14.73 L438.00,14.00 L439.52,13.33 L441.09,12.75 L442.69,12.24 L444.35,11.82 L446.05,11.47 L447.80,11.20 L449.62,11.00 L451.51,10.86 L453.45,10.80 L455.41,10.83 L457.37,10.96 L459.30,11.20 L461.23,11.56 L463.20,12.02 L465.16,12.59 L467.08,13.24 L468.94,13.98 L470.70,14.80 L472.37,15.69 L473.97,16.66 L475.50,17.71 L476.97,18.85 L478.37,20.08 L479.70,21.40 L480.99,22.85 L482.24,24.43 L483.43,26.10 L484.52,27.81 L485.49,29.53 L486.30,31.20 L486.97,32.89 L487.52,34.65 L487.94,36.41 L488.24,38.10 L488.39,39.65 L488.40,41.00 L488.29,42.12 L488.06,43.06 L487.70,43.86 L487.17,44.57 L486.45,45.23 L485.50,45.90 L484.22,46.56 L482.59,47.18 L480.77,47.76 L478.91,48.29 L477.13,48.77 L475.60,49.20 L474.23,49.53 L472.88,49.74 L471.63,49.90 L470.54,50.09 L469.68,50.36 L469.10,50.80 L469.01,51.44 L469.39,52.25 L470.00,53.14 L470.59,54.06 L470.90,54.94 L470.70,55.70 L469.93,56.44 L468.79,57.22 L467.37,57.96 L465.79,58.57 L464.17,58.94 L462.60,59.00 L460.97,58.53 L459.16,57.55 L457.29,56.35 L455.51,55.19 L453.94,54.35 L452.70,54.10 L451.89,54.54 L451.41,55.48 L451.14,56.73 L450.95,58.12 L450.71,59.47 L450.30,60.60 L449.78,61.57 L449.27,62.53 L448.71,63.46 L448.05,64.30 L447.23,65.03 L446.20,65.60 L444.88,66.05 L443.30,66.42 L441.56,66.67 L439.76,66.78 L438.01,66.70 L436.40,66.40 L434.87,65.84 L433.31,65.04 L431.79,64.06 L430.39,62.95 L429.17,61.78 L428.20,60.60 L427.55,59.38 L427.18,58.07 L426.99,56.70 L426.88,55.29 L426.75,53.88 L426.50,52.50 L426.12,51.14 L425.69,49.77 L425.24,48.41 L424.81,47.04 L424.42,45.67 L424.10,44.30 L423.85,42.91 L423.63,41.51 L423.45,40.10 L423.33,38.71 L423.28,37.37 L423.30,36.10 L423.39,34.94 L423.53,33.90 L423.74,32.90 L424.03,31.88 L424.41,30.77 Z" fill="none" stroke="#aaaaaa" stroke-width="6.5"/>
<path d="M426.20,50.10 L425.93,51.27 L425.93,52.79 L426.14,54.51 L426.51,56.28 L426.98,57.93 L427.50,59.30 L428.10,60.42 L428.83,61.43 L429.67,62.32 L430.58,63.10 L431.53,63.76 L432.50,64.30 L433.52,64.71 L434.61,65.00 L435.74,65.17 L436.89,65.23 L438.02,65.21 L439.10,65.10 L440.16,64.90 L441.25,64.60 L442.31,64.21 L443.32,63.74 L444.23,63.20 L445.00,62.60 L445.62,61.91 L446.11,61.12 L446.51,60.26 L446.84,59.36 L447.13,58.46 L447.40,57.60 L447.72,56.76 L448.06,55.90 L448.37,55.04 L448.56,54.20 L448.56,53.38 L448.30,52.60 L447.76,51.82 L446.99,51.03 L446.03,50.26 L444.91,49.56 L443.69,48.96 L442.40,48.50 L440.94,48.19 L439.26,48.00 L437.47,47.92 L435.68,47.92 L433.99,47.98 L432.50,48.10 L431.15,48.21 L429.85,48.32 L428.65,48.50 L427.60,48.81 L426.77,49.32 Z" fill="#a9a9a9"/><path d="M429,52 Q436,55 441,60 M428,56 Q434,58 438,63 M433,50 Q439,53 444,58 M438,49.5 Q443,52 447,55 M431,61 Q436,62 437,64.5 M440,56 Q443,60 444,62" stroke="#d8d8d8" stroke-width="0.9" fill="none"/><path d="M450,52 Q460,51 469,50.5 L470,55 Q466,58 462,58.5 Q456,57 451,54 Z" fill="#c0c0c0"/><path d="M453,55 Q460,53 467,53.5 M455,57 Q461,55.5 466,56" stroke="#888" stroke-width="0.8" fill="none"/>
<path d="" stroke="#f4f4f4" stroke-width="1.2" stroke-linecap="round" fill="none" transform="translate(1.6,0.6)"/>
<path d="" stroke="#909090" stroke-width="3.2" stroke-linecap="round" fill="none"/>
<path d="" stroke="#3a3a3a" stroke-width="1.3" stroke-linecap="round" fill="none"/>
<path d="M433.7,19.6 L437,25.5 M436.6,17.1 L440,23.8 M439.5,15 L440.8,20.5 M441.2,14.2 L444.1,24.6 M445,13 L446.6,23 M450,11.3 L451.2,19.6 M428.3,27.1 L433.3,29.6 M426.7,31.3 L431.6,32.9 M425,36.3 L429.1,37.1 M424.3,41 L428,42 M424.8,45 L428,46 M430.5,22 L434.5,26 M459.5,14.2 L459.5,21.3 M463.5,13.8 L463.3,18.5 M467.8,16.3 L467,20.5 M472,18.8 L470.7,24.6 M476.1,21.3 L473.6,28 M480.3,26.3 L477,29.6 M483.6,32.1 L480.3,33 M486.1,35.4 L482.8,36.3 M487.8,40 L484,40.5 M485.5,45 L482,43.5 M479,47.3 L477,44" stroke="#8a8a8a" stroke-width="3.2" stroke-linecap="round" fill="none"/><path d="M433.7,19.6 L437,25.5 M436.6,17.1 L440,23.8 M439.5,15 L440.8,20.5 M441.2,14.2 L444.1,24.6 M445,13 L446.6,23 M450,11.3 L451.2,19.6 M428.3,27.1 L433.3,29.6 M426.7,31.3 L431.6,32.9 M425,36.3 L429.1,37.1 M424.3,41 L428,42 M424.8,45 L428,46 M430.5,22 L434.5,26 M459.5,14.2 L459.5,21.3 M463.5,13.8 L463.3,18.5 M467.8,16.3 L467,20.5 M472,18.8 L470.7,24.6 M476.1,21.3 L473.6,28 M480.3,26.3 L477,29.6 M483.6,32.1 L480.3,33 M486.1,35.4 L482.8,36.3 M487.8,40 L484,40.5 M485.5,45 L482,43.5 M479,47.3 L477,44" stroke="#2e2e2e" stroke-width="1.4" stroke-linecap="round" fill="none"/><path d="M448.8,33 Q452,30.5 455,32 Q453,35 450,36 Z" fill="#555"/><path d="M452.5,22 Q454,21.5 455,23 Q453.5,24 452.5,23.5 Z" fill="#666"/><path d="M463.6,28 Q466,27 468.6,28.6" stroke="#555" stroke-width="1.6" fill="none"/><path d="M446,37 Q450,31.5 458,32 Q467,33 474,38 Q472,41 470,45 Q467,40.5 461,38.5 Q455,36 450,38.5 Q447.5,39.5 446,37 Z" fill="#8a8a8a"/><path d="M455,34.5 Q460,33.8 465,35.5" stroke="#444" stroke-width="1.1" fill="none"/><path d="M471,40 Q470,45 469.2,49.2" stroke="#555" stroke-width="1" fill="none"/><path d="M426.2,49.3 Q437,47 447.4,51.8" stroke="#333" stroke-width="1.2" fill="none"/><path d="M441,47.6 Q449,48 458,50.5 Q464,51.5 468.8,50.4" stroke="#444" stroke-width="1.1" fill="none"/><path d="M466.5,47 L469.5,49.5 L467.8,52" stroke="#fff" stroke-width="0.9" fill="none"/><path d="M443.5,40.5 Q445,39.5 447,40" stroke="#333" stroke-width="1.2" fill="none"/>
</g>
<path d="M424.90,29.50 L425.49,28.00 L426.17,26.32 L426.94,24.54 L427.80,22.78 L428.75,21.13 L429.80,19.70 L430.96,18.48 L432.23,17.39 L433.59,16.41 L435.03,15.53 L436.50,14.73 L438.00,14.00 L439.52,13.33 L441.09,12.75 L442.69,12.24 L444.35,11.82 L446.05,11.47 L447.80,11.20 L449.62,11.00 L451.51,10.86 L453.45,10.80 L455.41,10.83 L457.37,10.96 L459.30,11.20 L461.23,11.56 L463.20,12.02 L465.16,12.59 L467.08,13.24 L468.94,13.98 L470.70,14.80 L472.37,15.69 L473.97,16.66 L475.50,17.71 L476.97,18.85 L478.37,20.08 L479.70,21.40 L480.99,22.85 L482.24,24.43 L483.43,26.10 L484.52,27.81 L485.49,29.53 L486.30,31.20 L486.97,32.89 L487.52,34.65 L487.94,36.41 L488.24,38.10 L488.39,39.65 L488.40,41.00 L488.29,42.12 L488.06,43.06 L487.70,43.86 L487.17,44.57 L486.45,45.23 L485.50,45.90 L484.22,46.56 L482.59,47.18 L480.77,47.76 L478.91,48.29 L477.13,48.77 L475.60,49.20 L474.23,49.53 L472.88,49.74 L471.63,49.90 L470.54,50.09 L469.68,50.36 L469.10,50.80 L469.01,51.44 L469.39,52.25 L470.00,53.14 L470.59,54.06 L470.90,54.94 L470.70,55.70 L469.93,56.44 L468.79,57.22 L467.37,57.96 L465.79,58.57 L464.17,58.94 L462.60,59.00 L460.97,58.53 L459.16,57.55 L457.29,56.35 L455.51,55.19 L453.94,54.35 L452.70,54.10 L451.89,54.54 L451.41,55.48 L451.14,56.73 L450.95,58.12 L450.71,59.47 L450.30,60.60 L449.78,61.57 L449.27,62.53 L448.71,63.46 L448.05,64.30 L447.23,65.03 L446.20,65.60 L444.88,66.05 L443.30,66.42 L441.56,66.67 L439.76,66.78 L438.01,66.70 L436.40,66.40 L434.87,65.84 L433.31,65.04 L431.79,64.06 L430.39,62.95 L429.17,61.78 L428.20,60.60 L427.55,59.38 L427.18,58.07 L426.99,56.70 L426.88,55.29 L426.75,53.88 L426.50,52.50 L426.12,51.14 L425.69,49.77 L425.24,48.41 L424.81,47.04 L424.42,45.67 L424.10,44.30 L423.85,42.91 L423.63,41.51 L423.45,40.10 L423.33,38.71 L423.28,37.37 L423.30,36.10 L423.39,34.94 L423.53,33.90 L423.74,32.90 L424.03,31.88 L424.41,30.77 Z" fill="none" stroke="#3a3a3a" stroke-width="0.9"/>
<path d="M536.60,8.00 L537.67,7.71 L538.73,7.49 L539.78,7.34 L540.84,7.28 L541.91,7.30 L543.00,7.40 L544.13,7.68 L545.29,8.16 L546.47,8.71 L547.64,9.24 L548.79,9.64 L549.90,9.80 L550.95,9.64 L551.95,9.24 L552.93,8.71 L553.91,8.16 L554.93,7.68 L556.00,7.40 L557.14,7.30 L558.33,7.28 L559.56,7.34 L560.79,7.49 L562.01,7.71 L563.20,8.00 L564.38,8.39 L565.57,8.87 L566.75,9.44 L567.90,10.05 L568.99,10.68 L570.00,11.30 L570.93,11.91 L571.79,12.53 L572.59,13.16 L573.36,13.83 L574.09,14.54 L574.80,15.30 L575.50,16.12 L576.17,16.98 L576.81,17.88 L577.42,18.82 L577.98,19.80 L578.50,20.80 L578.97,21.84 L579.40,22.93 L579.79,24.06 L580.13,25.20 L580.44,26.35 L580.70,27.50 L580.92,28.65 L581.09,29.82 L581.22,31.00 L581.31,32.18 L581.37,33.35 L581.40,34.50 L581.39,35.64 L581.34,36.79 L581.25,37.92 L581.14,39.04 L581.02,40.14 L580.90,41.20 L580.79,42.22 L580.69,43.22 L580.57,44.19 L580.43,45.14 L580.25,46.07 L580.00,47.00 L579.70,47.94 L579.38,48.89 L579.01,49.82 L578.58,50.71 L578.08,51.55 L577.50,52.30 L576.82,52.97 L576.06,53.59 L575.22,54.15 L574.33,54.64 L573.42,55.06 L572.50,55.40 L571.55,55.65 L570.56,55.81 L569.53,55.90 L568.50,55.93 L567.48,55.93 L566.50,55.90 L565.52,55.84 L564.53,55.73 L563.55,55.57 L562.61,55.40 L561.75,55.20 L561.00,55.00 L560.35,54.72 L559.77,54.32 L559.27,53.91 L558.84,53.58 L558.48,53.41 L558.20,53.50 L558.03,53.90 L557.99,54.56 L558.01,55.38 L558.06,56.28 L558.07,57.18 L558.00,58.00 L557.86,58.78 L557.69,59.59 L557.48,60.40 L557.24,61.18 L556.95,61.89 L556.60,62.50 L556.19,63.01 L555.71,63.44 L555.19,63.81 L554.63,64.11 L554.07,64.38 L553.50,64.60 L552.93,64.77 L552.34,64.89 L551.73,64.96 L551.12,64.99 L550.51,65.00 L549.90,65.00 L549.29,65.00 L548.68,64.99 L548.06,64.96 L547.46,64.89 L546.87,64.77 L546.30,64.60 L545.75,64.38 L545.20,64.11 L544.67,63.81 L544.17,63.44 L543.71,63.01 L543.30,62.50 L542.95,61.89 L542.64,61.18 L542.37,60.40 L542.15,59.59 L541.96,58.78 L541.80,58.00 L541.72,57.18 L541.73,56.28 L541.78,55.38 L541.81,54.56 L541.77,53.90 L541.60,53.50 L541.32,53.41 L540.96,53.58 L540.53,53.91 L540.03,54.32 L539.45,54.72 L538.80,55.00 L538.05,55.20 L537.19,55.40 L536.25,55.58 L535.27,55.73 L534.28,55.84 L533.30,55.90 L532.32,55.93 L531.30,55.93 L530.27,55.90 L529.24,55.81 L528.25,55.65 L527.30,55.40 L526.38,55.06 L525.47,54.64 L524.58,54.15 L523.74,53.59 L522.98,52.97 L522.30,52.30 L521.72,51.55 L521.22,50.71 L520.79,49.82 L520.42,48.89 L520.10,47.94 L519.80,47.00 L519.55,46.07 L519.37,45.14 L519.22,44.19 L519.11,43.22 L519.01,42.22 L518.90,41.20 L518.78,40.14 L518.66,39.04 L518.55,37.93 L518.46,36.79 L518.41,35.64 L518.40,34.50 L518.43,33.35 L518.49,32.18 L518.59,31.00 L518.72,29.82 L518.89,28.65 L519.10,27.50 L519.35,26.35 L519.63,25.20 L519.96,24.06 L520.32,22.93 L520.74,21.84 L521.20,20.80 L521.72,19.80 L522.30,18.82 L522.92,17.88 L523.58,16.98 L524.28,16.12 L525.00,15.30 L525.75,14.54 L526.52,13.83 L527.33,13.16 L528.17,12.53 L529.06,11.91 L530.00,11.30 L531.01,10.68 L532.09,10.05 L533.21,9.44 L534.36,8.87 L535.49,8.39 Z" fill="#eeeeee"/>
<g clip-path="url(#cc)">
<path d="M536.60,8.00 L537.67,7.71 L538.73,7.49 L539.78,7.34 L540.84,7.28 L541.91,7.30 L543.00,7.40 L544.13,7.68 L545.29,8.16 L546.47,8.71 L547.64,9.24 L548.79,9.64 L549.90,9.80 L550.95,9.64 L551.95,9.24 L552.93,8.71 L553.91,8.16 L554.93,7.68 L556.00,7.40 L557.14,7.30 L558.33,7.28 L559.56,7.34 L560.79,7.49 L562.01,7.71 L563.20,8.00 L564.38,8.39 L565.57,8.87 L566.75,9.44 L567.90,10.05 L568.99,10.68 L570.00,11.30 L570.93,11.91 L571.79,12.53 L572.59,13.16 L573.36,13.83 L574.09,14.54 L574.80,15.30 L575.50,16.12 L576.17,16.98 L576.81,17.88 L577.42,18.82 L577.98,19.80 L578.50,20.80 L578.97,21.84 L579.40,22.93 L579.79,24.06 L580.13,25.20 L580.44,26.35 L580.70,27.50 L580.92,28.65 L581.09,29.82 L581.22,31.00 L581.31,32.18 L581.37,33.35 L581.40,34.50 L581.39,35.64 L581.34,36.79 L581.25,37.92 L581.14,39.04 L581.02,40.14 L580.90,41.20 L580.79,42.22 L580.69,43.22 L580.57,44.19 L580.43,45.14 L580.25,46.07 L580.00,47.00 L579.70,47.94 L579.38,48.89 L579.01,49.82 L578.58,50.71 L578.08,51.55 L577.50,52.30 L576.82,52.97 L576.06,53.59 L575.22,54.15 L574.33,54.64 L573.42,55.06 L572.50,55.40 L571.55,55.65 L570.56,55.81 L569.53,55.90 L568.50,55.93 L567.48,55.93 L566.50,55.90 L565.52,55.84 L564.53,55.73 L563.55,55.57 L562.61,55.40 L561.75,55.20 L561.00,55.00 L560.35,54.72 L559.77,54.32 L559.27,53.91 L558.84,53.58 L558.48,53.41 L558.20,53.50 L558.03,53.90 L557.99,54.56 L558.01,55.38 L558.06,56.28 L558.07,57.18 L558.00,58.00 L557.86,58.78 L557.69,59.59 L557.48,60.40 L557.24,61.18 L556.95,61.89 L556.60,62.50 L556.19,63.01 L555.71,63.44 L555.19,63.81 L554.63,64.11 L554.07,64.38 L553.50,64.60 L552.93,64.77 L552.34,64.89 L551.73,64.96 L551.12,64.99 L550.51,65.00 L549.90,65.00 L549.29,65.00 L548.68,64.99 L548.06,64.96 L547.46,64.89 L546.87,64.77 L546.30,64.60 L545.75,64.38 L545.20,64.11 L544.67,63.81 L544.17,63.44 L543.71,63.01 L543.30,62.50 L542.95,61.89 L542.64,61.18 L542.37,60.40 L542.15,59.59 L541.96,58.78 L541.80,58.00 L541.72,57.18 L541.73,56.28 L541.78,55.38 L541.81,54.56 L541.77,53.90 L541.60,53.50 L541.32,53.41 L540.96,53.58 L540.53,53.91 L540.03,54.32 L539.45,54.72 L538.80,55.00 L538.05,55.20 L537.19,55.40 L536.25,55.58 L535.27,55.73 L534.28,55.84 L533.30,55.90 L532.32,55.93 L531.30,55.93 L530.27,55.90 L529.24,55.81 L528.25,55.65 L527.30,55.40 L526.38,55.06 L525.47,54.64 L524.58,54.15 L523.74,53.59 L522.98,52.97 L522.30,52.30 L521.72,51.55 L521.22,50.71 L520.79,49.82 L520.42,48.89 L520.10,47.94 L519.80,47.00 L519.55,46.07 L519.37,45.14 L519.22,44.19 L519.11,43.22 L519.01,42.22 L518.90,41.20 L518.78,40.14 L518.66,39.04 L518.55,37.93 L518.46,36.79 L518.41,35.64 L518.40,34.50 L518.43,33.35 L518.49,32.18 L518.59,31.00 L518.72,29.82 L518.89,28.65 L519.10,27.50 L519.35,26.35 L519.63,25.20 L519.96,24.06 L520.32,22.93 L520.74,21.84 L521.20,20.80 L521.72,19.80 L522.30,18.82 L522.92,17.88 L523.58,16.98 L524.28,16.12 L525.00,15.30 L525.75,14.54 L526.52,13.83 L527.33,13.16 L528.17,12.53 L529.06,11.91 L530.00,11.30 L531.01,10.68 L532.09,10.05 L533.21,9.44 L534.36,8.87 L535.49,8.39 Z" fill="none" stroke="#aaaaaa" stroke-width="6.5"/>
<path d="M541,49 Q549.9,46 559,49 L558,63 Q549.9,67 542,63 Z" fill="#b4b4b4"/><path d="M544,55 Q549.9,53 556,55 M544,59 Q549.9,57 556,59" stroke="#c8c8c8" stroke-width="1" fill="none"/>
<path d="M541.91,7.30 Q542.01,9.67 540.91,13.33 M542.01,9.67 L539.49,15.65 M548.79,9.64 Q549.68,13.05 550.55,16.82 M549.68,13.05 L550.98,17.24 M553.91,8.16 Q552.38,12.21 549.71,14.69 M560.79,7.49 Q558.11,10.65 554.13,13.58 M564.38,8.39 Q561.71,11.43 559.72,15.88 M567.90,10.05 Q566.33,10.60 565.05,12.28 M566.33,10.60 L566.39,14.14 M574.09,14.54 Q573.05,17.64 571.31,21.29 M576.17,16.98 Q572.62,16.72 569.69,17.81 M579.79,24.06 Q578.01,24.50 575.89,26.05 M578.01,24.50 L577.72,25.12 M580.70,27.50 Q576.35,29.30 572.13,31.04 M581.40,34.50 Q578.66,34.26 574.50,34.00 M578.66,34.26 L575.60,32.69 M581.02,40.14 Q576.23,38.61 571.29,38.64 M576.23,38.61 L571.69,36.24 M580.43,45.14 Q576.97,45.63 573.09,46.24 M578.58,50.71 Q574.80,47.41 572.56,45.52 M575.22,54.15 Q573.37,52.56 571.23,51.55 M573.37,52.56 L570.30,50.90 M568.50,55.93 Q566.98,53.54 564.59,52.66 M562.61,55.40 Q561.15,53.29 558.70,52.01 M561.15,53.29 L558.38,53.00 M535.27,55.73 Q537.39,51.30 540.38,48.08 M537.39,51.30 L538.83,49.62 M529.24,55.81 Q530.92,54.25 531.61,52.24 M522.98,52.97 Q524.85,51.25 525.78,50.25 M524.85,51.25 L525.37,49.85 M520.42,48.89 Q523.07,46.35 527.29,42.41 M519.22,44.19 Q522.88,44.31 525.16,45.32 M518.46,36.79 Q521.95,36.51 526.10,36.74 M521.95,36.51 L523.94,37.19 M518.72,29.82 Q523.55,29.02 527.10,27.60 M519.63,25.20 Q523.10,27.49 528.12,28.99 M523.10,27.49 L527.12,29.80 M522.30,18.82 Q524.08,21.04 525.50,23.77 M524.08,21.04 L527.31,23.66 M525.75,14.54 Q528.29,16.17 530.73,16.78 M528.29,16.17 L532.18,18.89 M531.01,10.68 Q535.19,13.11 538.95,14.39 M535.19,13.11 L537.81,13.23" stroke="#f4f4f4" stroke-width="1.2" stroke-linecap="round" fill="none" transform="translate(1.6,0.6)"/>
<path d="M541.91,7.30 Q542.01,9.67 540.91,13.33 M542.01,9.67 L539.49,15.65 M548.79,9.64 Q549.68,13.05 550.55,16.82 M549.68,13.05 L550.98,17.24 M553.91,8.16 Q552.38,12.21 549.71,14.69 M560.79,7.49 Q558.11,10.65 554.13,13.58 M564.38,8.39 Q561.71,11.43 559.72,15.88 M567.90,10.05 Q566.33,10.60 565.05,12.28 M566.33,10.60 L566.39,14.14 M574.09,14.54 Q573.05,17.64 571.31,21.29 M576.17,16.98 Q572.62,16.72 569.69,17.81 M579.79,24.06 Q578.01,24.50 575.89,26.05 M578.01,24.50 L577.72,25.12 M580.70,27.50 Q576.35,29.30 572.13,31.04 M581.40,34.50 Q578.66,34.26 574.50,34.00 M578.66,34.26 L575.60,32.69 M581.02,40.14 Q576.23,38.61 571.29,38.64 M576.23,38.61 L571.69,36.24 M580.43,45.14 Q576.97,45.63 573.09,46.24 M578.58,50.71 Q574.80,47.41 572.56,45.52 M575.22,54.15 Q573.37,52.56 571.23,51.55 M573.37,52.56 L570.30,50.90 M568.50,55.93 Q566.98,53.54 564.59,52.66 M562.61,55.40 Q561.15,53.29 558.70,52.01 M561.15,53.29 L558.38,53.00 M535.27,55.73 Q537.39,51.30 540.38,48.08 M537.39,51.30 L538.83,49.62 M529.24,55.81 Q530.92,54.25 531.61,52.24 M522.98,52.97 Q524.85,51.25 525.78,50.25 M524.85,51.25 L525.37,49.85 M520.42,48.89 Q523.07,46.35 527.29,42.41 M519.22,44.19 Q522.88,44.31 525.16,45.32 M518.46,36.79 Q521.95,36.51 526.10,36.74 M521.95,36.51 L523.94,37.19 M518.72,29.82 Q523.55,29.02 527.10,27.60 M519.63,25.20 Q523.10,27.49 528.12,28.99 M523.10,27.49 L527.12,29.80 M522.30,18.82 Q524.08,21.04 525.50,23.77 M524.08,21.04 L527.31,23.66 M525.75,14.54 Q528.29,16.17 530.73,16.78 M528.29,16.17 L532.18,18.89 M531.01,10.68 Q535.19,13.11 538.95,14.39 M535.19,13.11 L537.81,13.23" stroke="#909090" stroke-width="3.2" stroke-linecap="round" fill="none"/>
<path d="M541.91,7.30 Q542.01,9.67 540.91,13.33 M542.01,9.67 L539.49,15.65 M548.79,9.64 Q549.68,13.05 550.55,16.82 M549.68,13.05 L550.98,17.24 M553.91,8.16 Q552.38,12.21 549.71,14.69 M560.79,7.49 Q558.11,10.65 554.13,13.58 M564.38,8.39 Q561.71,11.43 559.72,15.88 M567.90,10.05 Q566.33,10.60 565.05,12.28 M566.33,10.60 L566.39,14.14 M574.09,14.54 Q573.05,17.64 571.31,21.29 M576.17,16.98 Q572.62,16.72 569.69,17.81 M579.79,24.06 Q578.01,24.50 575.89,26.05 M578.01,24.50 L577.72,25.12 M580.70,27.50 Q576.35,29.30 572.13,31.04 M581.40,34.50 Q578.66,34.26 574.50,34.00 M578.66,34.26 L575.60,32.69 M581.02,40.14 Q576.23,38.61 571.29,38.64 M576.23,38.61 L571.69,36.24 M580.43,45.14 Q576.97,45.63 573.09,46.24 M578.58,50.71 Q574.80,47.41 572.56,45.52 M575.22,54.15 Q573.37,52.56 571.23,51.55 M573.37,52.56 L570.30,50.90 M568.50,55.93 Q566.98,53.54 564.59,52.66 M562.61,55.40 Q561.15,53.29 558.70,52.01 M561.15,53.29 L558.38,53.00 M535.27,55.73 Q537.39,51.30 540.38,48.08 M537.39,51.30 L538.83,49.62 M529.24,55.81 Q530.92,54.25 531.61,52.24 M522.98,52.97 Q524.85,51.25 525.78,50.25 M524.85,51.25 L525.37,49.85 M520.42,48.89 Q523.07,46.35 527.29,42.41 M519.22,44.19 Q522.88,44.31 525.16,45.32 M518.46,36.79 Q521.95,36.51 526.10,36.74 M521.95,36.51 L523.94,37.19 M518.72,29.82 Q523.55,29.02 527.10,27.60 M519.63,25.20 Q523.10,27.49 528.12,28.99 M523.10,27.49 L527.12,29.80 M522.30,18.82 Q524.08,21.04 525.50,23.77 M524.08,21.04 L527.31,23.66 M525.75,14.54 Q528.29,16.17 530.73,16.78 M528.29,16.17 L532.18,18.89 M531.01,10.68 Q535.19,13.11 538.95,14.39 M535.19,13.11 L537.81,13.23" stroke="#3a3a3a" stroke-width="1.3" stroke-linecap="round" fill="none"/>
<path d="M549.7,8.5 L549.7,16" stroke="#333" stroke-width="1.3"/><path d="M532,11 Q536,12 539.5,18 L537,19 Q534,15 531,14 Z M567.5,11 Q563.5,12 560,18 L562.5,19 Q565.5,15 568.5,14 Z" fill="#333"/><path d="M542.5,24.5 Q546,21 549.7,23 Q553.5,21 557,24.5 Q553,25.5 551,29 L549.7,31 L548.4,29 Q546.5,25.5 542.5,24.5 Z" fill="#3a3a3a"/><path d="M548.2,17 L549.7,15 L551.2,17 L549.7,19.5 Z" fill="#fff"/><path d="M541.2,31.8 Q545.5,35.5 549.7,36.4 Q554,35.5 558.2,31.8" stroke="#3a3a3a" stroke-width="3.6" fill="none" stroke-linecap="round"/><path d="M541.2,31.8 Q545.5,35.5 549.7,36.4 Q554,35.5 558.2,31.8" stroke="#fff" stroke-width="2.2" fill="none" stroke-linecap="round"/><circle cx="549.7" cy="39.3" r="2.0" fill="#fff" stroke="#444" stroke-width="0.6"/><circle cx="549.7" cy="42" r="1.3" fill="#f4f4f4"/><path d="M519,37 Q525,38 531,40.5 M581,37 Q575,38 569,40.5" stroke="#333" stroke-width="1.4" fill="none"/><path d="M520,46 Q526,45.5 530,47 M580,46 Q574,45.5 570,47" stroke="#444" stroke-width="1.2" fill="none"/><path d="M523,29 Q527,29 530,31 M577,29 Q573,29 570,31" stroke="#555" stroke-width="1.1" fill="none"/>
</g>
<path d="M536.60,8.00 L537.67,7.71 L538.73,7.49 L539.78,7.34 L540.84,7.28 L541.91,7.30 L543.00,7.40 L544.13,7.68 L545.29,8.16 L546.47,8.71 L547.64,9.24 L548.79,9.64 L549.90,9.80 L550.95,9.64 L551.95,9.24 L552.93,8.71 L553.91,8.16 L554.93,7.68 L556.00,7.40 L557.14,7.30 L558.33,7.28 L559.56,7.34 L560.79,7.49 L562.01,7.71 L563.20,8.00 L564.38,8.39 L565.57,8.87 L566.75,9.44 L567.90,10.05 L568.99,10.68 L570.00,11.30 L570.93,11.91 L571.79,12.53 L572.59,13.16 L573.36,13.83 L574.09,14.54 L574.80,15.30 L575.50,16.12 L576.17,16.98 L576.81,17.88 L577.42,18.82 L577.98,19.80 L578.50,20.80 L578.97,21.84 L579.40,22.93 L579.79,24.06 L580.13,25.20 L580.44,26.35 L580.70,27.50 L580.92,28.65 L581.09,29.82 L581.22,31.00 L581.31,32.18 L581.37,33.35 L581.40,34.50 L581.39,35.64 L581.34,36.79 L581.25,37.92 L581.14,39.04 L581.02,40.14 L580.90,41.20 L580.79,42.22 L580.69,43.22 L580.57,44.19 L580.43,45.14 L580.25,46.07 L580.00,47.00 L579.70,47.94 L579.38,48.89 L579.01,49.82 L578.58,50.71 L578.08,51.55 L577.50,52.30 L576.82,52.97 L576.06,53.59 L575.22,54.15 L574.33,54.64 L573.42,55.06 L572.50,55.40 L571.55,55.65 L570.56,55.81 L569.53,55.90 L568.50,55.93 L567.48,55.93 L566.50,55.90 L565.52,55.84 L564.53,55.73 L563.55,55.57 L562.61,55.40 L561.75,55.20 L561.00,55.00 L560.35,54.72 L559.77,54.32 L559.27,53.91 L558.84,53.58 L558.48,53.41 L558.20,53.50 L558.03,53.90 L557.99,54.56 L558.01,55.38 L558.06,56.28 L558.07,57.18 L558.00,58.00 L557.86,58.78 L557.69,59.59 L557.48,60.40 L557.24,61.18 L556.95,61.89 L556.60,62.50 L556.19,63.01 L555.71,63.44 L555.19,63.81 L554.63,64.11 L554.07,64.38 L553.50,64.60 L552.93,64.77 L552.34,64.89 L551.73,64.96 L551.12,64.99 L550.51,65.00 L549.90,65.00 L549.29,65.00 L548.68,64.99 L548.06,64.96 L547.46,64.89 L546.87,64.77 L546.30,64.60 L545.75,64.38 L545.20,64.11 L544.67,63.81 L544.17,63.44 L543.71,63.01 L543.30,62.50 L542.95,61.89 L542.64,61.18 L542.37,60.40 L542.15,59.59 L541.96,58.78 L541.80,58.00 L541.72,57.18 L541.73,56.28 L541.78,55.38 L541.81,54.56 L541.77,53.90 L541.60,53.50 L541.32,53.41 L540.96,53.58 L540.53,53.91 L540.03,54.32 L539.45,54.72 L538.80,55.00 L538.05,55.20 L537.19,55.40 L536.25,55.58 L535.27,55.73 L534.28,55.84 L533.30,55.90 L532.32,55.93 L531.30,55.93 L530.27,55.90 L529.24,55.81 L528.25,55.65 L527.30,55.40 L526.38,55.06 L525.47,54.64 L524.58,54.15 L523.74,53.59 L522.98,52.97 L522.30,52.30 L521.72,51.55 L521.22,50.71 L520.79,49.82 L520.42,48.89 L520.10,47.94 L519.80,47.00 L519.55,46.07 L519.37,45.14 L519.22,44.19 L519.11,43.22 L519.01,42.22 L518.90,41.20 L518.78,40.14 L518.66,39.04 L518.55,37.93 L518.46,36.79 L518.41,35.64 L518.40,34.50 L518.43,33.35 L518.49,32.18 L518.59,31.00 L518.72,29.82 L518.89,28.65 L519.10,27.50 L519.35,26.35 L519.63,25.20 L519.96,24.06 L520.32,22.93 L520.74,21.84 L521.20,20.80 L521.72,19.80 L522.30,18.82 L522.92,17.88 L523.58,16.98 L524.28,16.12 L525.00,15.30 L525.75,14.54 L526.52,13.83 L527.33,13.16 L528.17,12.53 L529.06,11.91 L530.00,11.30 L531.01,10.68 L532.09,10.05 L533.21,9.44 L534.36,8.87 L535.49,8.39 Z" fill="none" stroke="#3a3a3a" stroke-width="0.9"/>
<path d="M626.90,6.40 L627.76,6.16 L628.72,5.96 L629.76,5.83 L630.84,5.75 L631.93,5.74 L633.00,5.80 L634.06,6.00 L635.14,6.36 L636.23,6.77 L637.32,7.18 L638.41,7.48 L639.50,7.60 L640.57,7.48 L641.61,7.18 L642.66,6.77 L643.73,6.36 L644.84,6.00 L646.00,5.80 L647.29,5.74 L648.69,5.75 L650.13,5.82 L651.53,5.96 L652.82,6.16 L653.90,6.40 L654.77,6.70 L655.50,7.06 L656.10,7.48 L656.61,7.95 L657.07,8.46 L657.50,9.00 L657.88,9.59 L658.19,10.24 L658.44,10.94 L658.64,11.66 L658.83,12.38 L659.00,13.10 L659.17,13.82 L659.31,14.56 L659.43,15.30 L659.52,16.04 L659.58,16.78 L659.60,17.50 L659.53,18.20 L659.36,18.90 L659.15,19.58 L658.98,20.26 L658.91,20.93 L659.00,21.60 L659.30,22.25 L659.77,22.89 L660.34,23.53 L660.94,24.16 L661.52,24.82 L662.00,25.50 L662.41,26.20 L662.79,26.90 L663.14,27.62 L663.46,28.37 L663.75,29.16 L664.00,30.00 L664.22,30.92 L664.41,31.90 L664.58,32.92 L664.70,33.96 L664.77,34.99 L664.80,36.00 L664.76,36.98 L664.67,37.94 L664.52,38.90 L664.36,39.86 L664.17,40.82 L664.00,41.80 L663.83,42.79 L663.67,43.79 L663.49,44.80 L663.29,45.81 L663.06,46.81 L662.80,47.80 L662.51,48.79 L662.21,49.78 L661.87,50.76 L661.50,51.73 L661.08,52.68 L660.60,53.60 L660.05,54.50 L659.44,55.38 L658.79,56.24 L658.09,57.07 L657.36,57.86 L656.60,58.60 L655.81,59.29 L654.98,59.94 L654.12,60.56 L653.23,61.12 L652.32,61.64 L651.40,62.10 L650.46,62.51 L649.49,62.88 L648.50,63.20 L647.50,63.46 L646.50,63.66 L645.50,63.80 L644.51,63.83 L643.51,63.76 L642.51,63.62 L641.50,63.47 L640.50,63.35 L639.50,63.30 L638.49,63.35 L637.46,63.47 L636.43,63.62 L635.42,63.76 L634.44,63.83 L633.50,63.80 L632.62,63.66 L631.80,63.46 L631.00,63.20 L630.21,62.88 L629.42,62.51 L628.60,62.10 L627.74,61.64 L626.84,61.12 L625.94,60.56 L625.06,59.94 L624.20,59.29 L623.40,58.60 L622.65,57.86 L621.95,57.07 L621.27,56.24 L620.63,55.38 L620.01,54.50 L619.40,53.60 L618.80,52.68 L618.21,51.73 L617.65,50.76 L617.12,49.78 L616.63,48.79 L616.20,47.80 L615.83,46.81 L615.50,45.81 L615.23,44.80 L614.99,43.79 L614.78,42.79 L614.60,41.80 L614.45,40.82 L614.33,39.86 L614.24,38.90 L614.19,37.94 L614.18,36.98 L614.20,36.00 L614.25,34.99 L614.34,33.96 L614.46,32.92 L614.62,31.90 L614.83,30.92 L615.10,30.00 L615.44,29.16 L615.85,28.37 L616.31,27.62 L616.80,26.90 L617.30,26.20 L617.80,25.50 L618.34,24.82 L618.96,24.16 L619.58,23.52 L620.17,22.89 L620.66,22.25 L621.00,21.60 L621.15,20.93 L621.15,20.26 L621.06,19.58 L620.93,18.90 L620.82,18.20 L620.80,17.50 L620.85,16.78 L620.92,16.04 L621.01,15.30 L621.14,14.56 L621.30,13.82 L621.50,13.10 L621.74,12.38 L622.02,11.66 L622.33,10.94 L622.68,10.24 L623.07,9.59 L623.50,9.00 L623.95,8.46 L624.43,7.95 L624.94,7.48 L625.51,7.06 L626.16,6.70 Z" fill="#cfcfcf"/>
<g clip-path="url(#ca)">
<path d="M626.90,6.40 L627.76,6.16 L628.72,5.96 L629.76,5.83 L630.84,5.75 L631.93,5.74 L633.00,5.80 L634.06,6.00 L635.14,6.36 L636.23,6.77 L637.32,7.18 L638.41,7.48 L639.50,7.60 L640.57,7.48 L641.61,7.18 L642.66,6.77 L643.73,6.36 L644.84,6.00 L646.00,5.80 L647.29,5.74 L648.69,5.75 L650.13,5.82 L651.53,5.96 L652.82,6.16 L653.90,6.40 L654.77,6.70 L655.50,7.06 L656.10,7.48 L656.61,7.95 L657.07,8.46 L657.50,9.00 L657.88,9.59 L658.19,10.24 L658.44,10.94 L658.64,11.66 L658.83,12.38 L659.00,13.10 L659.17,13.82 L659.31,14.56 L659.43,15.30 L659.52,16.04 L659.58,16.78 L659.60,17.50 L659.53,18.20 L659.36,18.90 L659.15,19.58 L658.98,20.26 L658.91,20.93 L659.00,21.60 L659.30,22.25 L659.77,22.89 L660.34,23.53 L660.94,24.16 L661.52,24.82 L662.00,25.50 L662.41,26.20 L662.79,26.90 L663.14,27.62 L663.46,28.37 L663.75,29.16 L664.00,30.00 L664.22,30.92 L664.41,31.90 L664.58,32.92 L664.70,33.96 L664.77,34.99 L664.80,36.00 L664.76,36.98 L664.67,37.94 L664.52,38.90 L664.36,39.86 L664.17,40.82 L664.00,41.80 L663.83,42.79 L663.67,43.79 L663.49,44.80 L663.29,45.81 L663.06,46.81 L662.80,47.80 L662.51,48.79 L662.21,49.78 L661.87,50.76 L661.50,51.73 L661.08,52.68 L660.60,53.60 L660.05,54.50 L659.44,55.38 L658.79,56.24 L658.09,57.07 L657.36,57.86 L656.60,58.60 L655.81,59.29 L654.98,59.94 L654.12,60.56 L653.23,61.12 L652.32,61.64 L651.40,62.10 L650.46,62.51 L649.49,62.88 L648.50,63.20 L647.50,63.46 L646.50,63.66 L645.50,63.80 L644.51,63.83 L643.51,63.76 L642.51,63.62 L641.50,63.47 L640.50,63.35 L639.50,63.30 L638.49,63.35 L637.46,63.47 L636.43,63.62 L635.42,63.76 L634.44,63.83 L633.50,63.80 L632.62,63.66 L631.80,63.46 L631.00,63.20 L630.21,62.88 L629.42,62.51 L628.60,62.10 L627.74,61.64 L626.84,61.12 L625.94,60.56 L625.06,59.94 L624.20,59.29 L623.40,58.60 L622.65,57.86 L621.95,57.07 L621.27,56.24 L620.63,55.38 L620.01,54.50 L619.40,53.60 L618.80,52.68 L618.21,51.73 L617.65,50.76 L617.12,49.78 L616.63,48.79 L616.20,47.80 L615.83,46.81 L615.50,45.81 L615.23,44.80 L614.99,43.79 L614.78,42.79 L614.60,41.80 L614.45,40.82 L614.33,39.86 L614.24,38.90 L614.19,37.94 L614.18,36.98 L614.20,36.00 L614.25,34.99 L614.34,33.96 L614.46,32.92 L614.62,31.90 L614.83,30.92 L615.10,30.00 L615.44,29.16 L615.85,28.37 L616.31,27.62 L616.80,26.90 L617.30,26.20 L617.80,25.50 L618.34,24.82 L618.96,24.16 L619.58,23.52 L620.17,22.89 L620.66,22.25 L621.00,21.60 L621.15,20.93 L621.15,20.26 L621.06,19.58 L620.93,18.90 L620.82,18.20 L620.80,17.50 L620.85,16.78 L620.92,16.04 L621.01,15.30 L621.14,14.56 L621.30,13.82 L621.50,13.10 L621.74,12.38 L622.02,11.66 L622.33,10.94 L622.68,10.24 L623.07,9.59 L623.50,9.00 L623.95,8.46 L624.43,7.95 L624.94,7.48 L625.51,7.06 L626.16,6.70 Z" fill="none" stroke="#aaaaaa" stroke-width="6.5"/>
<ellipse cx="639.5" cy="37.5" rx="6" ry="5.5" fill="#bdbdbd"/><ellipse cx="639.5" cy="50" rx="7.5" ry="6.5" fill="#a2a2a2"/><path d="M631,31 Q628,40 631,47 M648,31 Q651,40 648,47" stroke="#8a8a8a" stroke-width="2" fill="none"/><path d="M622,48 Q628,57 635,62 L628,63 Q621,58 618.5,51 Z M657,48 Q651,57 644,62 L651,63 Q658,58 660.5,51 Z" fill="#b8b8b8"/><path d="M633.5,46 Q639.5,44.5 645.5,46 M632.5,49 Q639.5,47.5 646.5,49 M632.5,52 Q639.5,50.5 646.5,52 M634,55 Q639.5,53.5 645,55" stroke="#6e6e6e" stroke-width="0.8" fill="none"/><path d="M618,32 Q621,42 626,52 M661,32 Q658,42 653,52 M625,12 Q629,18 634,22 M654,12 Q650,18 645,22 M622,24 Q626,28 630,30 M657,24 Q653,28 649,30 M627,8 Q630,14 636,16 M652,8 Q649,14 643,16" stroke="#f6f6f6" stroke-width="2.2" fill="none" stroke-linecap="round"/><path d="M620,45 Q624,40 628,38 M659,45 Q655,40 651,38 M624,56 Q628,52 631,50 M655,56 Q651,52 648,50" stroke="#f2f2f2" stroke-width="1.6" fill="none" stroke-linecap="round"/>
<path d="M631.93,5.74 Q633.17,7.81 633.53,11.48 M633.17,7.81 L631.67,9.60 M637.32,7.18 Q635.30,11.90 634.61,16.62 M635.30,11.90 L633.69,15.88 M640.57,7.48 Q640.43,10.74 641.29,14.55 M640.43,10.74 L641.57,15.63 M646.00,5.80 Q645.99,7.74 646.39,9.34 M651.53,5.96 Q649.35,9.53 647.38,13.50 M649.35,9.53 L648.39,13.10 M656.10,7.48 Q655.32,10.79 654.43,13.48 M655.32,10.79 L654.05,13.11 M658.83,12.38 Q656.92,16.90 653.75,20.48 M656.92,16.90 L653.57,18.59 M659.36,18.90 Q656.20,20.38 652.12,21.33 M661.52,24.82 Q659.00,24.94 658.06,26.21 M664.00,30.00 Q663.15,30.58 661.08,32.18 M663.15,30.58 L662.79,30.28 M664.70,33.96 Q661.69,33.11 657.23,32.01 M664.17,40.82 Q660.42,39.35 655.98,39.12 M663.49,44.80 Q661.90,45.03 660.11,44.20 M661.90,45.03 L658.51,42.95 M661.50,51.73 Q657.69,49.53 654.30,47.66 M657.69,49.53 L653.89,45.58 M658.09,57.07 Q654.93,53.15 650.98,50.31 M654.12,60.56 Q652.18,57.44 650.29,53.86 M648.50,63.20 Q649.04,61.40 648.24,59.54 M649.04,61.40 L649.33,57.97 M644.51,63.83 Q644.01,61.22 644.10,59.46 M639.50,63.30 Q639.88,61.38 640.53,58.34 M632.62,63.66 Q632.07,61.28 631.58,59.26 M632.07,61.28 L630.88,58.37 M628.60,62.10 Q630.12,60.99 631.70,59.57 M630.12,60.99 L633.38,61.18 M623.40,58.60 Q626.34,56.31 628.14,54.35 M620.01,54.50 Q621.20,52.16 623.24,49.12 M616.20,47.80 Q619.06,44.43 622.91,41.84 M619.06,44.43 L623.93,43.63 M614.45,40.82 Q616.51,41.12 619.16,41.66 M614.34,33.96 Q615.67,34.47 617.68,35.43 M615.10,30.00 Q616.52,30.09 618.14,30.23 M616.52,30.09 L618.56,32.51 M618.34,24.82 Q621.37,25.44 625.12,25.53 M621.37,25.44 L627.05,27.58 M621.15,20.93 Q625.65,23.90 629.27,26.04 M625.65,23.90 L630.15,26.81 M620.80,17.50 Q622.78,19.86 623.28,21.68 M622.78,19.86 L621.35,21.65 M622.33,10.94 Q624.08,14.09 625.62,18.26 M625.51,7.06 Q625.89,8.58 625.77,11.31" stroke="#f4f4f4" stroke-width="1.2" stroke-linecap="round" fill="none" transform="translate(1.6,0.6)"/>
<path d="M631.93,5.74 Q633.17,7.81 633.53,11.48 M633.17,7.81 L631.67,9.60 M637.32,7.18 Q635.30,11.90 634.61,16.62 M635.30,11.90 L633.69,15.88 M640.57,7.48 Q640.43,10.74 641.29,14.55 M640.43,10.74 L641.57,15.63 M646.00,5.80 Q645.99,7.74 646.39,9.34 M651.53,5.96 Q649.35,9.53 647.38,13.50 M649.35,9.53 L648.39,13.10 M656.10,7.48 Q655.32,10.79 654.43,13.48 M655.32,10.79 L654.05,13.11 M658.83,12.38 Q656.92,16.90 653.75,20.48 M656.92,16.90 L653.57,18.59 M659.36,18.90 Q656.20,20.38 652.12,21.33 M661.52,24.82 Q659.00,24.94 658.06,26.21 M664.00,30.00 Q663.15,30.58 661.08,32.18 M663.15,30.58 L662.79,30.28 M664.70,33.96 Q661.69,33.11 657.23,32.01 M664.17,40.82 Q660.42,39.35 655.98,39.12 M663.49,44.80 Q661.90,45.03 660.11,44.20 M661.90,45.03 L658.51,42.95 M661.50,51.73 Q657.69,49.53 654.30,47.66 M657.69,49.53 L653.89,45.58 M658.09,57.07 Q654.93,53.15 650.98,50.31 M654.12,60.56 Q652.18,57.44 650.29,53.86 M648.50,63.20 Q649.04,61.40 648.24,59.54 M649.04,61.40 L649.33,57.97 M644.51,63.83 Q644.01,61.22 644.10,59.46 M639.50,63.30 Q639.88,61.38 640.53,58.34 M632.62,63.66 Q632.07,61.28 631.58,59.26 M632.07,61.28 L630.88,58.37 M628.60,62.10 Q630.12,60.99 631.70,59.57 M630.12,60.99 L633.38,61.18 M623.40,58.60 Q626.34,56.31 628.14,54.35 M620.01,54.50 Q621.20,52.16 623.24,49.12 M616.20,47.80 Q619.06,44.43 622.91,41.84 M619.06,44.43 L623.93,43.63 M614.45,40.82 Q616.51,41.12 619.16,41.66 M614.34,33.96 Q615.67,34.47 617.68,35.43 M615.10,30.00 Q616.52,30.09 618.14,30.23 M616.52,30.09 L618.56,32.51 M618.34,24.82 Q621.37,25.44 625.12,25.53 M621.37,25.44 L627.05,27.58 M621.15,20.93 Q625.65,23.90 629.27,26.04 M625.65,23.90 L630.15,26.81 M620.80,17.50 Q622.78,19.86 623.28,21.68 M622.78,19.86 L621.35,21.65 M622.33,10.94 Q624.08,14.09 625.62,18.26 M625.51,7.06 Q625.89,8.58 625.77,11.31" stroke="#909090" stroke-width="3.2" stroke-linecap="round" fill="none"/>
<path d="M631.93,5.74 Q633.17,7.81 633.53,11.48 M633.17,7.81 L631.67,9.60 M637.32,7.18 Q635.30,11.90 634.61,16.62 M635.30,11.90 L633.69,15.88 M640.57,7.48 Q640.43,10.74 641.29,14.55 M640.43,10.74 L641.57,15.63 M646.00,5.80 Q645.99,7.74 646.39,9.34 M651.53,5.96 Q649.35,9.53 647.38,13.50 M649.35,9.53 L648.39,13.10 M656.10,7.48 Q655.32,10.79 654.43,13.48 M655.32,10.79 L654.05,13.11 M658.83,12.38 Q656.92,16.90 653.75,20.48 M656.92,16.90 L653.57,18.59 M659.36,18.90 Q656.20,20.38 652.12,21.33 M661.52,24.82 Q659.00,24.94 658.06,26.21 M664.00,30.00 Q663.15,30.58 661.08,32.18 M663.15,30.58 L662.79,30.28 M664.70,33.96 Q661.69,33.11 657.23,32.01 M664.17,40.82 Q660.42,39.35 655.98,39.12 M663.49,44.80 Q661.90,45.03 660.11,44.20 M661.90,45.03 L658.51,42.95 M661.50,51.73 Q657.69,49.53 654.30,47.66 M657.69,49.53 L653.89,45.58 M658.09,57.07 Q654.93,53.15 650.98,50.31 M654.12,60.56 Q652.18,57.44 650.29,53.86 M648.50,63.20 Q649.04,61.40 648.24,59.54 M649.04,61.40 L649.33,57.97 M644.51,63.83 Q644.01,61.22 644.10,59.46 M639.50,63.30 Q639.88,61.38 640.53,58.34 M632.62,63.66 Q632.07,61.28 631.58,59.26 M632.07,61.28 L630.88,58.37 M628.60,62.10 Q630.12,60.99 631.70,59.57 M630.12,60.99 L633.38,61.18 M623.40,58.60 Q626.34,56.31 628.14,54.35 M620.01,54.50 Q621.20,52.16 623.24,49.12 M616.20,47.80 Q619.06,44.43 622.91,41.84 M619.06,44.43 L623.93,43.63 M614.45,40.82 Q616.51,41.12 619.16,41.66 M614.34,33.96 Q615.67,34.47 617.68,35.43 M615.10,30.00 Q616.52,30.09 618.14,30.23 M616.52,30.09 L618.56,32.51 M618.34,24.82 Q621.37,25.44 625.12,25.53 M621.37,25.44 L627.05,27.58 M621.15,20.93 Q625.65,23.90 629.27,26.04 M625.65,23.90 L630.15,26.81 M620.80,17.50 Q622.78,19.86 623.28,21.68 M622.78,19.86 L621.35,21.65 M622.33,10.94 Q624.08,14.09 625.62,18.26 M625.51,7.06 Q625.89,8.58 625.77,11.31" stroke="#3a3a3a" stroke-width="1.3" stroke-linecap="round" fill="none"/>
<path d="M639.5,6.5 L639.5,26" stroke="#3a3a3a" stroke-width="1.1"/><ellipse cx="639.5" cy="37.5" rx="6" ry="5.5" fill="none" stroke="#666" stroke-width="0.7"/><ellipse cx="639.5" cy="50" rx="7.5" ry="6.5" fill="none" stroke="#444" stroke-width="0.8"/><path d="M637.5,34 Q639.5,36 641.5,34" stroke="#555" stroke-width="0.9" fill="none"/><path d="M628.5,27 Q631,33 631,40 M650.5,27 Q648,33 648,40" stroke="#444" stroke-width="1.1" fill="none"/><path d="M646,35 Q650,36 652,39" stroke="#222" stroke-width="1.4" fill="none"/><path d="M639.5,57 L639.5,63" stroke="#444" stroke-width="1.2"/><path d="M625,30 Q627,33 626,37 M654,30 Q652,33 653,37 M630,12 L632,19 M649,12 L647,19 M623,48 L628,50 M656,48 L651,50" stroke="#555" stroke-width="1" fill="none"/>
</g>
<path d="M626.90,6.40 L627.76,6.16 L628.72,5.96 L629.76,5.83 L630.84,5.75 L631.93,5.74 L633.00,5.80 L634.06,6.00 L635.14,6.36 L636.23,6.77 L637.32,7.18 L638.41,7.48 L639.50,7.60 L640.57,7.48 L641.61,7.18 L642.66,6.77 L643.73,6.36 L644.84,6.00 L646.00,5.80 L647.29,5.74 L648.69,5.75 L650.13,5.82 L651.53,5.96 L652.82,6.16 L653.90,6.40 L654.77,6.70 L655.50,7.06 L656.10,7.48 L656.61,7.95 L657.07,8.46 L657.50,9.00 L657.88,9.59 L658.19,10.24 L658.44,10.94 L658.64,11.66 L658.83,12.38 L659.00,13.10 L659.17,13.82 L659.31,14.56 L659.43,15.30 L659.52,16.04 L659.58,16.78 L659.60,17.50 L659.53,18.20 L659.36,18.90 L659.15,19.58 L658.98,20.26 L658.91,20.93 L659.00,21.60 L659.30,22.25 L659.77,22.89 L660.34,23.53 L660.94,24.16 L661.52,24.82 L662.00,25.50 L662.41,26.20 L662.79,26.90 L663.14,27.62 L663.46,28.37 L663.75,29.16 L664.00,30.00 L664.22,30.92 L664.41,31.90 L664.58,32.92 L664.70,33.96 L664.77,34.99 L664.80,36.00 L664.76,36.98 L664.67,37.94 L664.52,38.90 L664.36,39.86 L664.17,40.82 L664.00,41.80 L663.83,42.79 L663.67,43.79 L663.49,44.80 L663.29,45.81 L663.06,46.81 L662.80,47.80 L662.51,48.79 L662.21,49.78 L661.87,50.76 L661.50,51.73 L661.08,52.68 L660.60,53.60 L660.05,54.50 L659.44,55.38 L658.79,56.24 L658.09,57.07 L657.36,57.86 L656.60,58.60 L655.81,59.29 L654.98,59.94 L654.12,60.56 L653.23,61.12 L652.32,61.64 L651.40,62.10 L650.46,62.51 L649.49,62.88 L648.50,63.20 L647.50,63.46 L646.50,63.66 L645.50,63.80 L644.51,63.83 L643.51,63.76 L642.51,63.62 L641.50,63.47 L640.50,63.35 L639.50,63.30 L638.49,63.35 L637.46,63.47 L636.43,63.62 L635.42,63.76 L634.44,63.83 L633.50,63.80 L632.62,63.66 L631.80,63.46 L631.00,63.20 L630.21,62.88 L629.42,62.51 L628.60,62.10 L627.74,61.64 L626.84,61.12 L625.94,60.56 L625.06,59.94 L624.20,59.29 L623.40,58.60 L622.65,57.86 L621.95,57.07 L621.27,56.24 L620.63,55.38 L620.01,54.50 L619.40,53.60 L618.80,52.68 L618.21,51.73 L617.65,50.76 L617.12,49.78 L616.63,48.79 L616.20,47.80 L615.83,46.81 L615.50,45.81 L615.23,44.80 L614.99,43.79 L614.78,42.79 L614.60,41.80 L614.45,40.82 L614.33,39.86 L614.24,38.90 L614.19,37.94 L614.18,36.98 L614.20,36.00 L614.25,34.99 L614.34,33.96 L614.46,32.92 L614.62,31.90 L614.83,30.92 L615.10,30.00 L615.44,29.16 L615.85,28.37 L616.31,27.62 L616.80,26.90 L617.30,26.20 L617.80,25.50 L618.34,24.82 L618.96,24.16 L619.58,23.52 L620.17,22.89 L620.66,22.25 L621.00,21.60 L621.15,20.93 L621.15,20.26 L621.06,19.58 L620.93,18.90 L620.82,18.20 L620.80,17.50 L620.85,16.78 L620.92,16.04 L621.01,15.30 L621.14,14.56 L621.30,13.82 L621.50,13.10 L621.74,12.38 L622.02,11.66 L622.33,10.94 L622.68,10.24 L623.07,9.59 L623.50,9.00 L623.95,8.46 L624.43,7.95 L624.94,7.48 L625.51,7.06 L626.16,6.70 Z" fill="none" stroke="#3a3a3a" stroke-width="0.9"/>
<rect x="444.9" y="42.65" width="11.6" height="4" transform="rotate(30 450.7 44.65)" fill="#2fcb68"/>
<rect x="531.1" y="44.6" width="8.8" height="5.3" fill="#2fcb68"/>
<rect x="623.8" y="35.1" width="8.5" height="6.4" fill="#2fcb68"/></g></svg>
</body></html>
